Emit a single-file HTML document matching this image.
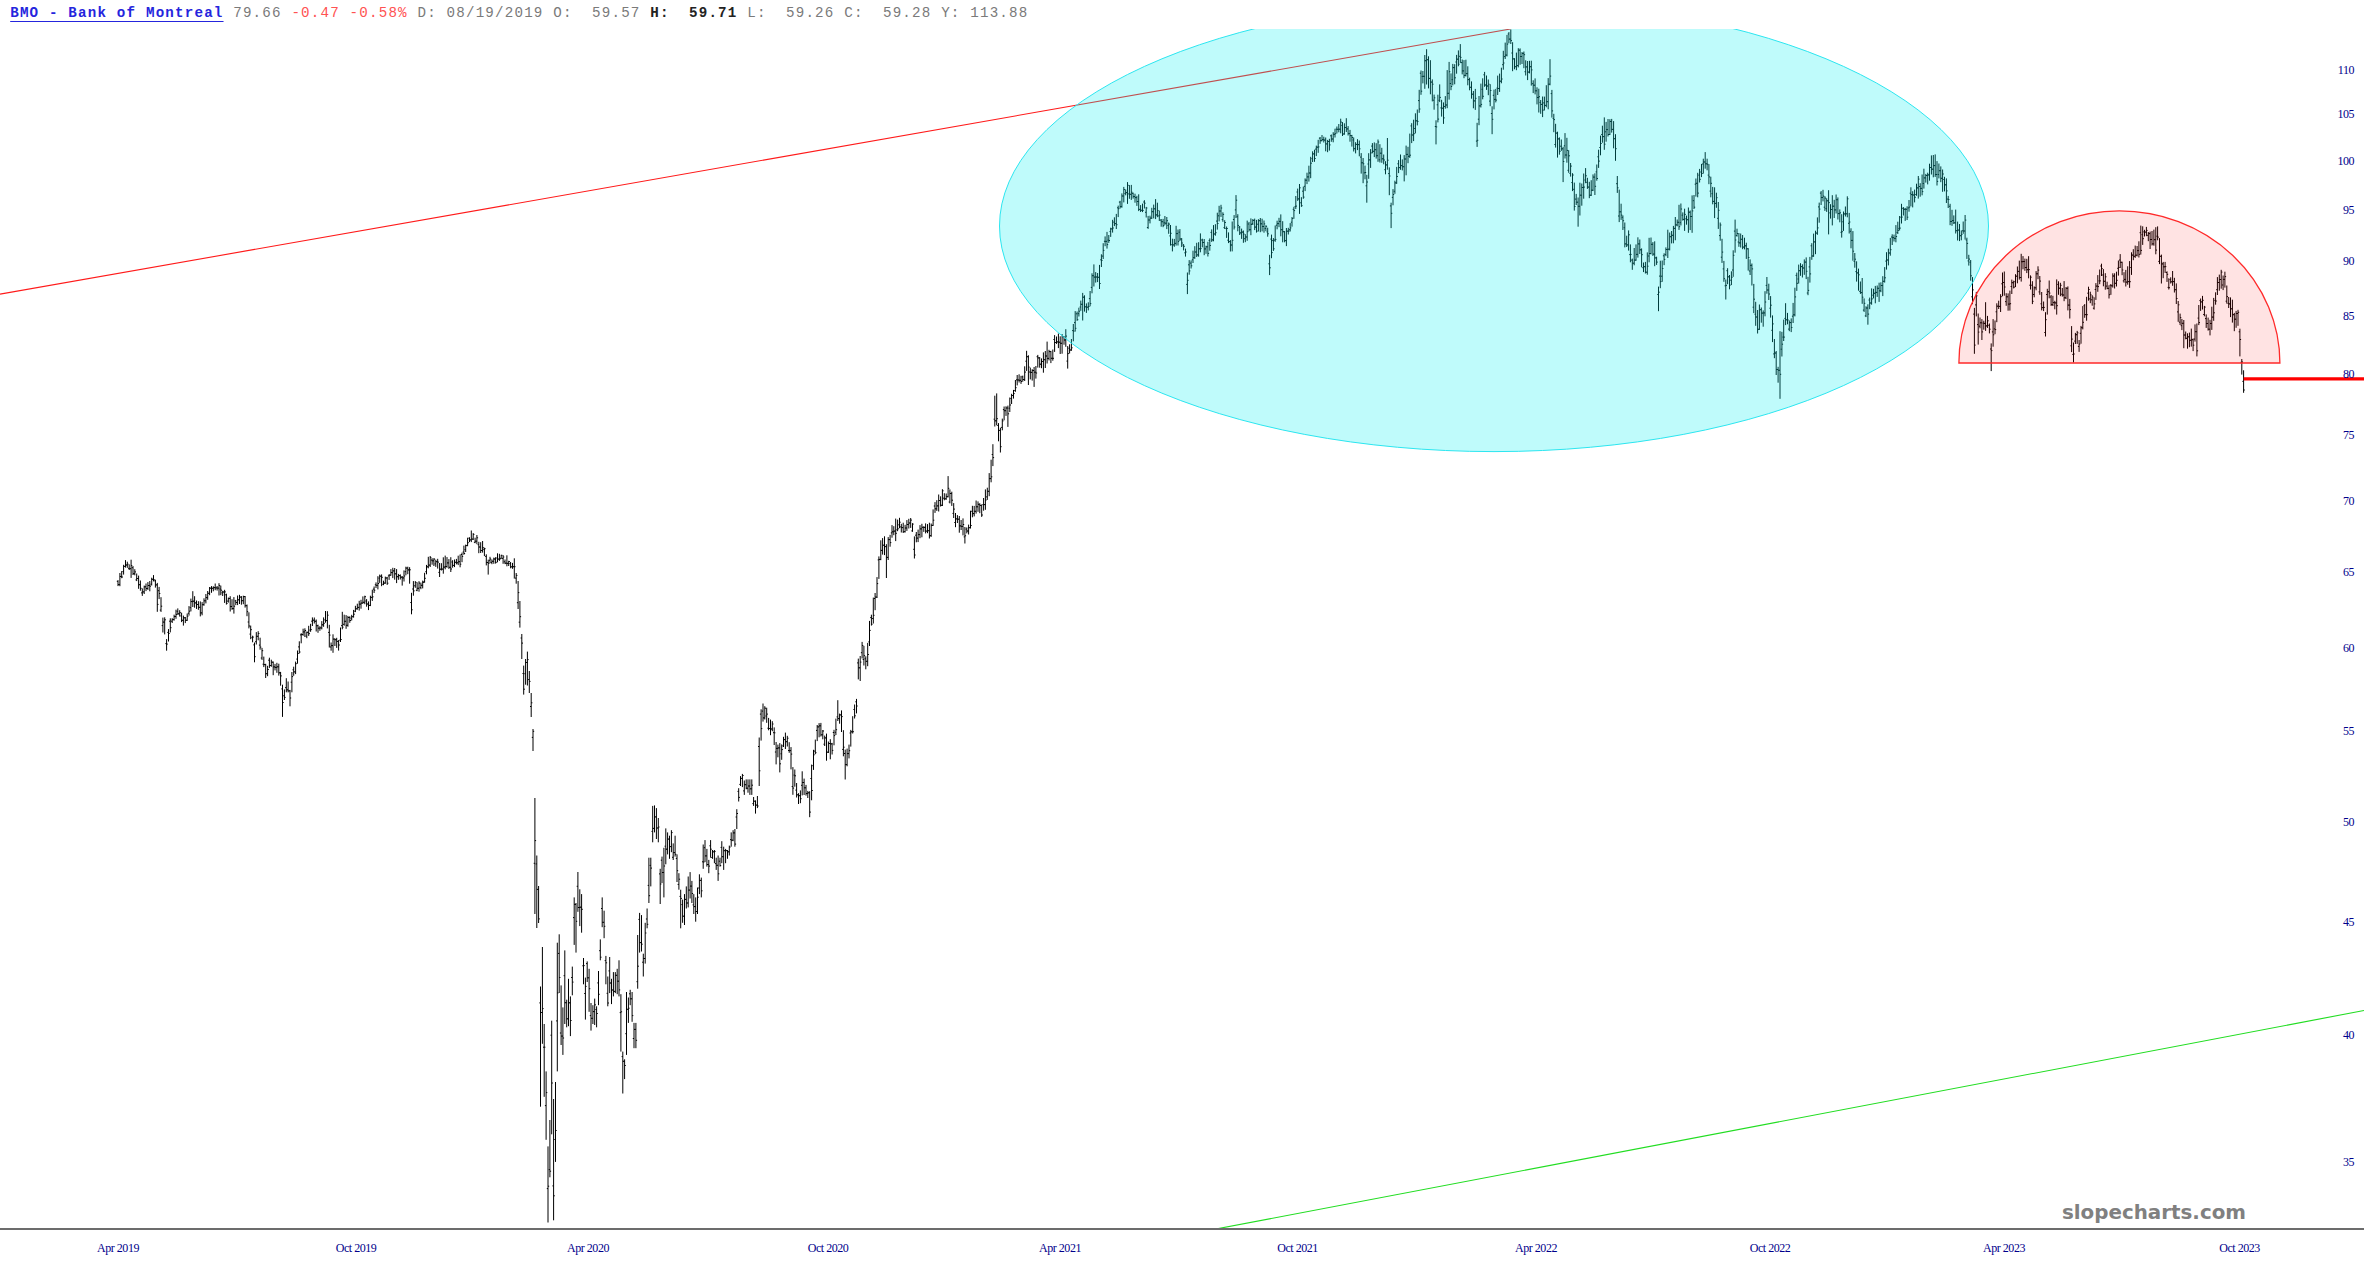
<!DOCTYPE html>
<html><head><meta charset="utf-8"><title>BMO - Bank of Montreal</title>
<style>
html,body{margin:0;padding:0;background:#fff;}
body{width:2364px;height:1269px;overflow:hidden;position:relative;}
#hdr{position:absolute;left:10.2px;top:0;height:27px;line-height:27px;white-space:pre;font-family:"Liberation Mono",monospace;font-size:14.2px;letter-spacing:1.183px;color:#7a7a7a;}
#hdr a{color:#2525dd;font-weight:bold;text-decoration:underline;text-decoration-thickness:1.3px;text-underline-offset:3.6px;}
#hdr .r{color:#ff5252;}
#hdr .b{color:#222;font-weight:bold;}
svg{position:absolute;left:0;top:0;}
.ax text{font-family:"Liberation Serif",serif;font-size:12px;letter-spacing:-0.47px;fill:#00008b;}
.wm{font-family:"DejaVu Sans","Liberation Sans",sans-serif;font-weight:bold;font-size:19px;fill:#808080;}
</style></head><body>
<svg width="2364" height="1269" viewBox="0 0 2364 1269">
<defs><clipPath id="cp"><rect x="0" y="29" width="2364" height="1200"/></clipPath></defs>
<g clip-path="url(#cp)">
<path d="M118.0 580.2V586.1M119.9 573.0V586.2M121.7 571.1V578.2M123.6 564.8V574.6M125.5 560.1V567.6M127.3 561.7V567.8M129.2 564.4V570.0M131.1 559.7V577.9M133.0 566.1V575.0M134.8 569.2V575.3M136.7 573.5V581.1M138.6 575.6V588.8M140.4 580.5V590.7M142.3 588.4V595.9M144.2 585.6V594.0M146.0 583.5V591.1M147.9 582.1V589.9M149.8 581.0V591.3M151.7 577.7V585.5M153.5 575.1V581.4M155.4 579.7V587.6M157.3 582.9V611.8M159.1 586.9V599.1M161.0 597.2V611.9M162.9 617.6V632.5M164.7 617.3V634.4M166.6 639.1V650.7M168.5 629.1V641.5M170.3 618.3V632.4M172.2 618.2V623.0M174.1 614.7V620.6M176.0 609.7V618.8M177.8 608.4V614.8M179.7 610.2V616.6M181.6 612.7V622.1M183.4 615.6V625.6M185.3 617.0V623.1M187.2 613.5V620.9M189.0 606.1V615.6M190.9 598.6V611.4M192.8 591.2V607.0M194.6 596.2V607.7M196.5 600.5V608.9M198.4 601.2V609.8M200.3 601.4V616.4M202.1 602.1V615.3M204.0 598.3V605.7M205.9 594.0V603.4M207.7 591.0V599.8M209.6 587.0V595.2M211.5 586.1V592.8M213.3 586.3V591.3M215.2 583.5V590.2M217.1 586.0V590.6M219.0 583.2V595.5M220.8 585.6V595.2M222.7 590.8V596.0M224.6 589.8V602.9M226.4 593.7V604.6M228.3 597.6V602.6M230.2 596.2V611.5M232.0 599.2V609.8M233.9 597.1V613.6M235.8 599.9V605.1M237.6 595.5V605.1M239.5 594.8V604.0M241.4 596.1V604.7M243.3 595.7V604.2M245.1 596.0V607.6M247.0 604.5V616.2M248.9 612.3V628.4M250.7 625.6V639.2M252.6 635.7V642.3M254.5 642.5V662.3M256.3 632.1V644.5M258.2 631.2V640.3M260.1 637.7V649.7M262.0 647.9V659.9M263.8 656.6V667.1M265.7 663.8V678.0M267.6 665.8V676.2M269.4 657.7V667.9M271.3 659.7V666.8M273.2 661.5V675.2M275.0 663.9V670.4M276.9 662.8V672.8M278.8 663.7V675.6M280.6 671.9V685.7M282.5 684.7V716.9M284.4 689.4V700.0M286.3 678.2V692.3M288.1 681.5V692.4M290.0 689.9V706.3M291.9 672.0V692.3M293.7 666.7V675.8M295.6 661.6V674.1M297.5 650.5V663.7M299.3 641.3V653.5M301.2 633.2V643.3M303.1 628.7V635.8M304.9 628.3V637.0M306.8 631.6V638.2M308.7 625.8V635.9M310.6 623.8V631.8M312.4 617.4V626.0M314.3 617.5V623.5M316.2 619.5V631.5M318.0 624.7V632.8M319.9 626.2V630.8M321.8 621.1V629.4M323.6 617.4V626.8M325.5 611.0V622.7M327.4 611.2V628.4M329.3 624.8V647.5M331.1 642.5V650.7M333.0 634.3V652.8M334.9 638.4V646.0M336.7 637.8V647.9M338.6 640.1V650.6M340.5 627.5V642.0M342.3 611.8V629.3M344.2 614.7V625.7M346.1 615.1V628.8M347.9 615.9V626.7M349.8 616.3V622.8M351.7 614.8V620.5M353.6 609.9V617.6M355.4 605.8V612.1M357.3 603.7V609.7M359.2 600.8V610.6M361.0 599.8V608.7M362.9 596.4V603.7M364.8 595.7V604.2M366.6 599.1V606.7M368.5 601.4V610.1M370.4 595.7V606.1M372.3 589.7V600.9M374.1 586.5V593.0M376.0 582.4V588.0M377.9 576.2V589.4M379.7 574.6V582.9M381.6 574.4V586.2M383.5 580.7V585.2M385.3 576.6V583.8M387.2 576.9V584.9M389.1 574.2V579.9M390.9 569.1V575.7M392.8 567.8V578.1M394.7 568.0V579.7M396.6 569.1V583.1M398.4 573.9V579.8M400.3 574.4V579.5M402.2 576.0V585.6M404.0 570.4V581.5M405.9 566.7V575.3M407.8 566.7V574.2M409.6 567.2V583.7M411.5 592.8V614.3M413.4 581.1V595.7M415.3 581.1V587.8M417.1 582.3V591.2M419.0 581.2V591.7M420.9 582.6V589.2M422.7 580.6V588.4M424.6 572.8V582.8M426.5 564.9V574.3M428.3 556.8V568.3M430.2 556.0V567.0M432.1 558.2V564.7M433.9 558.2V566.0M435.8 559.7V566.9M437.7 558.8V568.6M439.6 563.0V577.0M441.4 563.2V570.5M443.3 557.3V573.7M445.2 555.6V569.3M447.0 557.1V567.7M448.9 559.1V568.9M450.8 557.2V572.0M452.6 560.2V567.7M454.5 559.5V567.1M456.4 558.9V564.4M458.2 555.7V565.1M460.1 554.5V567.3M462.0 552.6V562.2M463.9 545.6V554.8M465.7 544.6V552.0M467.6 537.7V546.2M469.5 537.3V542.1M471.3 530.5V542.1M473.2 533.1V540.0M475.1 537.7V543.2M476.9 535.0V544.2M478.8 541.8V553.2M480.7 542.2V553.0M482.6 541.0V552.6M484.4 547.7V556.1M486.3 554.3V565.4M488.2 559.7V574.6M490.0 556.8V563.3M491.9 559.4V564.2M493.8 557.6V563.8M495.6 557.2V563.6M497.5 553.3V562.3M499.4 553.8V560.9M501.2 554.8V558.9M503.1 555.1V563.8M505.0 559.5V564.1M506.9 555.3V566.3M508.7 560.8V566.0M510.6 562.0V568.3M512.5 562.9V568.8M514.3 558.3V578.6M516.2 573.0V583.7M518.1 581.0V609.0M519.9 601.0V627.6M521.8 634.0V659.0M523.7 665.6V694.6M525.6 659.0V684.7M527.4 651.6V685.5M529.3 671.0V693.0M531.2 693.0V717.0M533.0 729.0V751.0M534.9 798.0V914.0M536.8 855.5V928.0M538.6 886.0V923.0M540.5 986.5V1106.7M542.4 947.0V1043.8M544.2 1024.0V1096.8M546.1 1071.4V1139.8M548.0 1146.4V1222.5M549.9 1120.0V1177.3M551.7 1020.7V1134.3M553.6 1099.0V1220.3M555.5 1082.0V1161.9M557.3 942.7V1071.4M559.2 934.3V993.0M561.1 985.4V1045.0M562.9 1007.4V1054.9M564.8 950.4V1024.0M566.7 999.7V1027.3M568.5 978.8V1026.2M570.4 996.4V1036.1M572.3 966.6V995.3M574.2 897.4V944.9M576.0 903.0V952.6M577.9 872.0V911.8M579.8 889.3V926.1M581.6 894.1V932.7M583.5 958.0V984.3M585.4 977.6V1019.6M587.2 961.4V982.0M589.1 968.8V1011.8M591.0 1003.0V1030.6M592.9 1005.2V1024.0M594.7 998.6V1025.0M596.6 1006.3V1027.3M598.5 971.0V1005.2M600.3 939.4V960.3M602.2 897.4V927.2M604.1 910.7V938.2M605.9 955.9V984.3M607.8 976.5V1006.3M609.7 957.0V993.1M611.5 978.8V1004.1M613.4 972.1V996.4M615.3 972.1V993.1M617.2 968.8V994.2M619.0 960.3V996.4M620.9 994.2V1051.6M622.8 1051.6V1093.5M624.6 1059.3V1079.1M626.5 992.0V1054.9M628.4 997.5V1022.9M630.2 989.8V1005.2M632.1 992.0V1021.8M634.0 1022.9V1048.2M635.9 1022.9V1048.2M637.7 935.0V988.7M639.6 912.9V952.6M641.5 915.1V951.5M643.3 953.7V976.5M645.2 922.8V963.6M647.1 908.5V928.3M648.9 857.7V903.0M650.8 857.7V886.4M652.7 805.9V842.3M654.5 805.4V832.4M656.4 808.1V839.0M658.3 818.0V842.3M660.2 868.8V904.0M662.0 856.6V883.1M663.9 847.8V897.4M665.8 828.4V864.3M667.6 832.4V854.4M669.5 835.7V858.8M671.4 830.2V852.2M673.2 843.4V860.0M675.1 835.7V856.6M677.0 854.4V882.0M678.9 873.2V889.7M680.7 889.7V928.3M682.6 899.6V922.8M684.5 894.1V925.0M686.3 886.4V908.5M688.2 876.5V907.4M690.1 872.1V898.5M691.9 880.9V903.0M693.8 894.1V914.0M695.7 897.4V921.7M697.5 887.5V914.0M699.4 874.3V894.1M701.3 877.6V897.4M703.2 844.5V868.8M705.0 840.1V862.1M706.9 848.9V866.6M708.8 859.9V873.2M710.6 840.1V857.7M712.5 850.0V858.8M714.4 850.0V863.2M716.2 857.7V869.9M718.1 855.5V880.9M720.0 857.7V866.6M721.8 841.2V863.2M723.7 846.7V869.9M725.6 848.9V863.2M727.5 850.0V858.8M729.3 845.6V855.5M731.2 832.4V846.7M733.1 830.2V841.2M734.9 829.0V846.7M736.8 809.2V829.0M738.7 788.2V801.5M740.5 776.1V786.0M742.4 773.9V787.1M744.3 780.5V794.9M746.2 779.4V789.3M748.0 779.4V792.7M749.9 779.4V794.9M751.8 779.4V794.9M753.6 797.0V805.9M755.5 800.4V813.6M757.4 796.0V808.1M759.2 737.5V786.0M761.1 709.3V740.6M763.0 703.5V721.6M764.8 706.2V719.5M766.7 707.7V722.8M768.6 717.9V730.3M770.5 719.6V735.2M772.3 721.2V731.2M774.2 727.4V745.0M776.1 742.0V764.4M777.9 744.6V757.3M779.8 743.1V772.4M781.7 744.4V759.8M783.5 736.8V747.0M785.4 732.6V749.0M787.3 735.8V746.5M789.2 742.2V752.8M791.0 747.1V769.4M792.9 767.1V794.8M794.8 769.5V786.7M796.6 783.0V797.5M798.5 793.2V804.0M800.4 790.4V803.2M802.2 771.3V795.4M804.1 778.6V795.0M806.0 784.9V795.6M807.8 790.9V798.0M809.7 791.2V817.2M811.6 764.6V800.3M813.5 749.8V769.9M815.3 739.6V754.2M817.2 725.0V741.1M819.1 723.1V737.3M820.9 722.9V736.5M822.8 730.0V739.3M824.7 735.6V746.0M826.5 733.6V760.7M828.4 741.5V753.0M830.3 739.2V759.3M832.1 742.9V754.5M834.0 729.8V745.3M835.9 718.6V735.0M837.8 700.2V721.0M839.6 713.6V723.7M841.5 710.4V732.0M843.4 730.2V756.3M845.2 749.6V779.5M847.1 748.6V766.3M849.0 744.6V758.4M850.8 729.9V746.6M852.7 716.2V733.5M854.6 704.5V718.5M856.5 698.9V713.4M858.3 658.6V679.4M860.2 656.0V681.0M862.1 641.9V658.5M863.9 645.9V665.5M865.8 656.3V669.3M867.7 642.9V666.2M869.5 620.9V646.0M871.4 614.7V625.6M873.3 597.6V623.5M875.1 593.0V610.2M877.0 577.1V598.0M878.9 556.4V578.9M880.8 540.3V560.2M882.6 538.1V554.6M884.5 536.3V555.1M886.4 544.2V578.0M888.2 537.1V560.0M890.1 534.8V546.7M892.0 525.1V537.7M893.8 526.2V535.2M895.7 518.6V541.1M897.6 519.6V531.2M899.5 517.8V528.2M901.3 523.8V532.5M903.2 522.7V533.0M905.1 524.8V532.5M906.9 520.1V530.9M908.8 518.8V528.5M910.7 518.0V527.9M912.5 523.2V531.8M914.4 536.4V558.5M916.3 532.0V542.3M918.1 529.6V542.1M920.0 525.1V538.2M921.9 523.8V537.3M923.8 526.3V531.9M925.6 523.4V533.4M927.5 524.1V533.2M929.4 522.7V538.5M931.2 523.5V536.8M933.1 509.4V525.9M935.0 502.1V512.9M936.8 500.2V510.9M938.7 494.5V511.5M940.6 496.3V506.5M942.4 489.2V506.0M944.3 493.2V500.3M946.2 493.5V499.8M948.1 476.1V497.4M949.9 489.4V503.4M951.8 491.7V505.9M953.7 503.1V518.0M955.5 513.0V527.2M957.4 515.1V523.0M959.3 516.0V532.7M961.1 520.0V530.0M963.0 518.4V535.4M964.9 527.0V543.5M966.8 527.4V533.4M968.6 524.6V534.5M970.5 510.7V528.5M972.4 505.8V517.3M974.2 505.9V516.4M976.1 500.5V513.6M978.0 501.4V511.8M979.8 503.3V513.2M981.7 504.5V516.9M983.6 498.0V510.7M985.4 489.4V509.8M987.3 487.7V499.9M989.2 473.1V496.2M991.1 459.7V482.3M992.9 444.2V466.1M994.8 395.7V426.5M996.7 393.4V425.3M998.5 423.1V441.3M1000.4 427.7V452.5M1002.3 418.6V430.3M1004.1 406.5V420.3M1006.0 406.3V415.9M1007.9 405.6V426.9M1009.8 397.5V412.0M1011.6 393.8V404.0M1013.5 389.9V398.6M1015.4 380.0V391.8M1017.2 375.0V385.4M1019.1 374.3V382.5M1021.0 375.8V383.9M1022.8 375.6V381.6M1024.7 366.3V381.0M1026.6 350.8V370.9M1028.4 355.3V385.0M1030.3 367.6V379.4M1032.2 369.2V380.6M1034.1 367.0V386.9M1035.9 366.0V378.6M1037.8 354.9V367.6M1039.7 357.1V367.7M1041.5 358.4V368.2M1043.4 352.4V372.7M1045.3 351.0V368.0M1047.1 341.6V363.5M1049.0 349.8V360.4M1050.9 350.9V363.1M1052.8 349.5V360.7M1054.6 335.1V351.9M1056.5 336.5V343.9M1058.4 333.5V348.1M1060.2 336.3V354.0M1062.1 334.0V353.7M1064.0 336.0V344.7M1065.8 329.2V346.8M1067.7 346.1V368.6M1069.6 344.3V353.5M1071.4 339.0V350.8M1073.3 324.0V341.3M1075.2 311.1V331.6M1077.1 311.5V320.8M1078.9 307.7V316.5M1080.8 300.6V310.8M1082.7 292.9V320.5M1084.5 295.3V311.6M1086.4 303.4V312.9M1088.3 302.3V310.4M1090.1 291.0V306.3M1092.0 273.3V293.3M1093.9 264.4V286.5M1095.7 272.1V282.6M1097.6 273.0V282.1M1099.5 264.9V289.0M1101.4 254.3V267.0M1103.2 243.2V259.0M1105.1 236.4V246.2M1107.0 231.9V248.6M1108.8 235.0V242.9M1110.7 227.7V236.9M1112.6 219.8V232.6M1114.4 217.3V226.1M1116.3 213.9V229.0M1118.2 205.6V217.1M1120.1 200.8V208.5M1121.9 193.4V207.7M1123.8 186.9V202.4M1125.7 189.4V195.3M1127.5 182.1V203.9M1129.4 185.1V198.8M1131.3 184.9V199.9M1133.1 192.6V198.6M1135.0 193.7V202.7M1136.9 195.8V205.9M1138.7 194.3V211.1M1140.6 205.1V212.0M1142.5 203.6V212.1M1144.4 200.2V208.5M1146.2 206.9V217.5M1148.1 215.9V228.9M1150.0 215.7V223.4M1151.8 207.8V219.0M1153.7 204.6V218.4M1155.6 199.1V219.1M1157.4 202.7V217.2M1159.3 210.6V221.0M1161.2 219.0V226.7M1163.1 218.9V227.2M1164.9 216.0V225.2M1166.8 217.0V229.1M1168.7 222.5V233.8M1170.5 225.0V245.6M1172.4 238.7V251.4M1174.3 238.9V246.8M1176.1 225.8V245.6M1178.0 229.5V245.5M1179.9 229.1V241.0M1181.7 238.1V247.0M1183.6 244.1V250.4M1185.5 248.6V256.6M1187.4 272.5V294.1M1189.2 260.1V274.7M1191.1 260.4V268.5M1193.0 250.7V263.0M1194.8 246.2V258.8M1196.7 242.8V257.0M1198.6 242.2V256.7M1200.4 233.4V252.3M1202.3 238.7V247.3M1204.2 239.0V255.2M1206.0 245.7V253.8M1207.9 241.8V256.5M1209.8 238.4V250.7M1211.7 229.4V241.9M1213.5 225.1V241.3M1215.4 224.2V235.7M1217.3 212.7V229.6M1219.1 205.8V221.4M1221.0 204.8V216.9M1222.9 212.3V221.8M1224.7 220.2V229.0M1226.6 226.5V237.9M1228.5 232.4V243.1M1230.4 240.1V251.5M1232.2 221.5V251.4M1234.1 215.1V229.5M1236.0 195.1V218.0M1237.8 214.2V231.3M1239.7 226.0V235.0M1241.6 228.6V238.9M1243.4 230.5V242.8M1245.3 234.2V242.2M1247.2 220.6V240.8M1249.0 221.9V231.3M1250.9 218.4V235.2M1252.8 219.1V225.0M1254.7 218.6V230.1M1256.5 219.9V232.6M1258.4 219.2V231.5M1260.3 218.0V232.2M1262.1 218.7V231.4M1264.0 220.5V232.7M1265.9 225.3V231.2M1267.7 227.7V236.7M1269.6 254.8V275.1M1271.5 234.6V258.2M1273.4 238.1V250.9M1275.2 225.5V241.8M1277.1 220.7V229.3M1279.0 217.8V227.2M1280.8 214.4V236.3M1282.7 221.2V242.3M1284.6 231.1V242.3M1286.4 228.0V246.1M1288.3 227.8V234.5M1290.2 223.1V231.5M1292.0 217.0V226.7M1293.9 206.8V218.8M1295.8 196.0V209.0M1297.7 188.6V200.9M1299.5 184.0V213.9M1301.4 197.2V206.9M1303.3 186.6V198.8M1305.1 178.4V191.1M1307.0 172.7V184.1M1308.9 165.7V181.6M1310.7 156.8V178.2M1312.6 151.3V162.0M1314.5 149.7V161.8M1316.3 145.6V156.1M1318.2 139.8V152.8M1320.1 137.0V143.8M1322.0 135.0V141.2M1323.8 136.7V142.5M1325.7 137.5V151.3M1327.6 139.9V152.2M1329.4 138.8V150.6M1331.3 134.5V141.8M1333.2 132.2V142.3M1335.0 128.7V137.5M1336.9 126.5V133.5M1338.8 124.0V132.3M1340.7 118.7V133.3M1342.5 122.1V136.0M1344.4 123.3V134.7M1346.3 118.2V132.0M1348.1 126.1V135.5M1350.0 129.9V141.7M1351.9 134.9V146.6M1353.7 137.5V151.5M1355.6 142.2V153.4M1357.5 139.2V150.1M1359.3 140.5V156.3M1361.2 153.1V173.6M1363.1 158.0V183.2M1365.0 165.6V179.3M1366.8 174.8V202.7M1368.7 153.2V178.8M1370.6 149.1V167.9M1372.4 143.1V153.3M1374.3 142.4V157.1M1376.2 143.2V158.6M1378.0 139.5V161.8M1379.9 144.2V162.5M1381.8 147.8V162.8M1383.7 154.5V164.3M1385.5 161.2V174.3M1387.4 138.0V169.7M1389.3 167.4V195.2M1391.1 202.7V228.1M1393.0 189.1V205.3M1394.9 180.7V193.8M1396.7 166.9V183.9M1398.6 160.1V173.1M1400.5 154.5V169.8M1402.3 159.4V170.4M1404.2 155.1V181.4M1406.1 145.6V175.3M1408.0 146.8V163.2M1409.8 133.6V157.9M1411.7 123.2V143.1M1413.6 119.7V141.1M1415.4 113.3V133.4M1417.3 109.5V125.4M1419.2 89.8V112.8M1421.0 70.5V94.8M1422.9 71.0V83.4M1424.8 55.0V88.8M1426.6 49.2V84.5M1428.5 56.3V88.4M1430.4 60.2V94.3M1432.3 79.4V101.4M1434.1 94.6V109.7M1436.0 120.3V144.4M1437.9 94.7V122.4M1439.7 84.4V102.1M1441.6 99.8V116.6M1443.5 102.4V123.9M1445.3 96.1V108.7M1447.2 70.1V108.2M1449.1 61.9V99.6M1451.0 73.4V90.2M1452.8 63.9V85.4M1454.7 64.2V84.3M1456.6 54.9V73.7M1458.4 50.4V66.3M1460.3 44.1V63.1M1462.2 59.5V74.4M1464.0 60.1V78.2M1465.9 59.7V76.5M1467.8 66.3V85.3M1469.6 77.7V90.3M1471.5 81.4V98.7M1473.4 91.0V108.3M1475.3 88.9V109.9M1477.1 122.8V146.9M1479.0 96.0V125.2M1480.9 83.6V107.5M1482.7 78.3V99.3M1484.6 71.9V86.8M1486.5 75.5V89.9M1488.3 79.5V95.2M1490.2 84.2V106.2M1492.1 106.3V134.2M1494.0 89.6V109.4M1495.8 88.9V102.4M1497.7 75.6V95.0M1499.6 73.6V91.9M1501.4 67.7V83.3M1503.3 50.8V69.7M1505.2 42.6V59.0M1507.0 34.9V56.4M1508.9 32.1V43.3M1510.8 29.5V44.0M1512.6 42.2V71.2M1514.5 58.2V69.3M1516.4 52.6V70.2M1518.3 48.2V67.4M1520.1 48.4V64.8M1522.0 52.1V64.0M1523.9 51.5V68.2M1525.7 60.3V75.5M1527.6 61.0V80.1M1529.5 60.8V73.4M1531.3 60.7V85.6M1533.2 80.3V93.1M1535.1 78.4V94.4M1537.0 87.3V104.4M1538.8 88.7V112.5M1540.7 100.0V113.8M1542.6 96.5V117.1M1544.4 96.6V110.5M1546.3 85.2V107.3M1548.2 78.1V109.3M1550.0 59.2V85.3M1551.9 89.9V117.6M1553.8 113.8V132.2M1555.6 123.8V147.6M1557.5 131.7V157.6M1559.4 137.4V154.7M1561.3 139.5V150.9M1563.1 146.8V182.1M1565.0 133.1V158.5M1566.9 137.8V162.7M1568.7 150.2V172.8M1570.6 163.0V176.6M1572.5 173.2V191.1M1574.3 182.6V210.6M1576.2 193.9V205.0M1578.1 197.5V226.7M1579.9 182.7V215.5M1581.8 183.5V205.7M1583.7 173.5V198.7M1585.6 168.1V183.2M1587.4 177.8V188.9M1589.3 181.8V198.2M1591.2 180.2V196.0M1593.0 174.4V191.1M1594.9 173.3V195.0M1596.8 164.5V180.7M1598.6 149.7V167.9M1600.5 135.6V155.3M1602.4 125.7V142.7M1604.3 117.4V149.8M1606.1 121.9V141.7M1608.0 119.0V136.5M1609.9 119.2V135.0M1611.7 118.9V132.6M1613.6 121.1V148.3M1615.5 134.2V160.8M1617.3 176.0V192.9M1619.2 189.6V222.1M1621.1 203.7V219.9M1622.9 215.4V230.0M1624.8 222.5V247.4M1626.7 235.7V247.0M1628.6 230.4V250.6M1630.4 244.4V262.3M1632.3 258.6V269.8M1634.2 248.0V265.3M1636.0 244.4V260.8M1637.9 237.3V257.6M1639.8 239.5V254.0M1641.6 248.4V267.3M1643.5 262.5V272.1M1645.4 261.9V273.5M1647.3 252.4V274.7M1649.1 237.8V262.3M1651.0 237.5V254.4M1652.9 242.1V255.9M1654.7 241.3V266.2M1656.6 256.7V264.9M1658.5 286.6V311.2M1660.3 260.7V288.2M1662.2 260.5V281.8M1664.1 253.3V265.2M1665.9 247.4V256.2M1667.8 229.7V258.0M1669.7 232.5V250.4M1671.6 231.0V243.4M1673.4 225.9V243.3M1675.3 217.0V240.3M1677.2 219.5V226.3M1679.0 204.8V229.9M1680.9 203.5V225.5M1682.8 212.4V220.6M1684.6 208.7V230.9M1686.5 215.6V224.7M1688.4 207.5V232.8M1690.2 210.5V230.1M1692.1 195.4V232.8M1694.0 195.0V209.0M1695.9 178.5V196.6M1697.7 172.8V197.3M1699.6 168.9V182.5M1701.5 163.9V177.1M1703.3 158.7V173.6M1705.2 152.1V168.7M1707.1 158.7V170.3M1708.9 164.1V184.2M1710.8 176.7V197.3M1712.7 186.9V204.3M1714.6 187.3V218.1M1716.4 192.7V207.8M1718.3 202.0V228.9M1720.2 222.5V240.7M1722.0 238.8V262.9M1723.9 260.9V281.8M1725.8 279.5V299.5M1727.6 268.2V284.2M1729.5 275.0V289.3M1731.4 271.3V285.1M1733.2 250.3V276.8M1735.1 219.6V252.7M1737.0 228.7V236.6M1738.9 233.0V246.8M1740.7 233.5V247.5M1742.6 235.0V249.2M1744.5 237.7V249.4M1746.3 242.7V258.9M1748.2 248.2V270.6M1750.1 259.4V275.0M1751.9 263.5V285.5M1753.8 283.9V313.1M1755.7 301.8V325.8M1757.6 310.0V333.5M1759.4 304.5V329.9M1761.3 307.5V322.7M1763.2 310.4V326.7M1765.0 291.2V316.3M1766.9 277.0V293.7M1768.8 283.7V300.0M1770.6 296.1V317.6M1772.5 315.4V342.1M1774.4 339.0V358.2M1776.2 351.0V375.0M1778.1 366.8V382.7M1780.0 331.2V398.8M1781.9 331.8V356.5M1783.7 319.6V341.0M1785.6 303.2V325.1M1787.5 312.9V324.3M1789.3 320.4V331.2M1791.2 318.4V332.1M1793.1 302.9V323.0M1794.9 287.7V316.4M1796.8 272.6V290.9M1798.7 264.6V283.6M1800.5 263.2V275.8M1802.4 264.3V277.5M1804.3 259.4V274.8M1806.2 257.4V279.1M1808.0 276.8V295.2M1809.9 256.9V282.6M1811.8 243.2V259.8M1813.6 233.6V256.8M1815.5 230.7V254.2M1817.4 217.4V234.8M1819.2 202.6V222.7M1821.1 191.1V205.0M1823.0 189.8V201.4M1824.9 196.2V210.9M1826.7 198.3V211.9M1828.6 190.2V234.4M1830.5 204.2V218.6M1832.3 195.2V225.4M1834.2 199.8V218.0M1836.1 194.5V213.5M1837.9 197.4V219.5M1839.8 209.4V222.3M1841.7 214.2V237.6M1843.5 211.5V230.9M1845.4 206.5V216.5M1847.3 196.3V217.3M1849.2 212.9V233.5M1851.0 228.3V248.3M1852.9 231.1V260.7M1854.8 253.0V267.7M1856.6 261.3V281.6M1858.5 268.6V290.7M1860.4 281.5V293.9M1862.2 278.0V303.8M1864.1 298.4V311.9M1866.0 306.3V317.1M1867.9 304.3V324.7M1869.7 297.6V309.2M1871.6 288.4V304.7M1873.5 288.8V298.4M1875.3 285.9V303.3M1877.2 285.5V296.9M1879.1 282.7V301.9M1880.9 282.3V292.2M1882.8 276.2V296.1M1884.7 267.1V282.6M1886.5 252.2V269.6M1888.4 248.7V265.4M1890.3 237.9V255.7M1892.2 234.3V245.0M1894.0 234.6V241.5M1895.9 225.1V242.3M1897.8 221.7V234.0M1899.6 216.0V230.5M1901.5 203.8V223.5M1903.4 207.1V215.5M1905.2 207.9V220.9M1907.1 206.3V220.0M1909.0 200.0V211.7M1910.9 187.3V206.4M1912.7 191.2V207.4M1914.6 189.6V202.4M1916.5 183.7V195.8M1918.3 176.0V198.6M1920.2 183.2V196.7M1922.1 174.5V195.3M1923.9 168.7V188.6M1925.8 173.9V182.6M1927.7 172.7V184.4M1929.5 163.7V180.7M1931.4 155.4V174.5M1933.3 155.0V177.3M1935.2 154.4V176.9M1937.0 161.1V185.5M1938.9 163.5V178.4M1940.8 166.4V182.2M1942.6 169.5V191.8M1944.5 176.8V191.4M1946.4 178.4V203.0M1948.2 195.9V208.0M1950.1 203.8V225.2M1952.0 209.8V225.8M1953.8 215.4V224.0M1955.7 209.6V233.5M1957.6 221.6V240.5M1959.5 224.0V241.1M1961.3 230.4V240.3M1963.2 221.5V233.8M1965.1 215.0V239.6M1966.9 237.7V258.9M1968.8 254.8V265.6M1970.7 260.0V280.7M1972.5 277.1V304.2M1974.4 307.9V353.8M1976.3 291.9V316.4M1978.2 313.5V344.6M1980.0 317.5V328.3M1981.9 319.1V340.0M1983.8 320.7V329.7M1985.6 302.2V330.9M1987.5 315.9V327.9M1989.4 323.5V333.4M1991.2 343.4V371.1M1993.1 319.1V346.7M1995.0 320.5V334.2M1996.8 303.3V322.2M1998.7 300.7V309.0M2000.6 294.2V312.0M2002.5 272.5V296.3M2004.3 271.5V295.7M2006.2 293.2V305.8M2008.1 293.4V310.7M2009.9 290.6V310.6M2011.8 279.6V294.0M2013.7 280.7V288.4M2015.5 274.2V287.1M2017.4 266.5V283.3M2019.3 260.6V279.6M2021.2 253.8V281.6M2023.0 256.1V269.3M2024.9 258.6V270.8M2026.8 258.8V273.1M2028.6 256.2V278.3M2030.5 275.4V289.5M2032.4 281.2V304.1M2034.2 286.4V297.3M2036.1 271.1V290.3M2038.0 266.3V279.2M2039.8 276.0V294.8M2041.7 292.0V310.4M2043.6 301.5V311.1M2045.5 312.2V336.5M2047.3 288.8V314.6M2049.2 280.5V298.3M2051.1 295.0V305.9M2052.9 295.8V306.0M2054.8 300.8V309.3M2056.7 279.4V314.6M2058.5 281.3V294.8M2060.4 282.8V296.2M2062.3 288.0V296.6M2064.1 281.1V301.2M2066.0 287.1V299.1M2067.9 286.4V310.4M2069.8 298.9V318.5M2071.6 326.1V352.1M2073.5 342.5V362.5M2075.4 332.9V344.0M2077.2 330.9V343.9M2079.1 340.0V351.9M2081.0 325.9V343.7M2082.8 306.1V329.4M2084.7 304.1V317.8M2086.6 296.8V320.7M2088.5 286.7V300.7M2090.3 291.7V303.2M2092.2 295.2V305.7M2094.1 297.3V309.6M2095.9 283.1V299.9M2097.8 275.1V291.8M2099.7 269.5V284.2M2101.5 263.7V276.0M2103.4 269.1V286.3M2105.3 273.2V289.7M2107.1 281.7V289.3M2109.0 285.3V298.5M2110.9 284.1V294.8M2112.8 273.3V287.6M2114.6 273.3V288.5M2116.5 271.7V286.5M2118.4 260.5V275.6M2120.2 254.1V268.0M2122.1 261.7V275.2M2124.0 272.2V282.7M2125.8 269.9V286.5M2127.7 266.3V284.7M2129.6 261.1V287.9M2131.5 252.3V274.9M2133.3 249.2V260.2M2135.2 245.6V257.9M2137.1 246.0V256.4M2138.9 241.3V257.5M2140.8 225.6V254.6M2142.7 226.3V244.9M2144.5 229.8V236.5M2146.4 226.9V236.2M2148.3 232.0V241.2M2150.1 231.6V249.0M2152.0 231.0V245.5M2153.9 229.6V245.7M2155.8 227.2V254.3M2157.6 226.4V240.3M2159.5 238.1V264.1M2161.4 254.6V283.5M2163.2 261.9V278.2M2165.1 261.9V272.9M2167.0 271.3V281.9M2168.8 278.3V289.5M2170.7 277.3V283.5M2172.6 271.0V285.8M2174.4 277.8V292.5M2176.3 283.4V304.0M2178.2 301.0V321.8M2180.1 313.6V325.0M2181.9 318.9V330.1M2183.8 320.0V348.2M2185.7 331.5V339.3M2187.5 333.3V348.7M2189.4 332.6V347.2M2191.3 328.6V346.6M2193.1 338.5V351.1M2195.0 324.4V341.6M2196.9 323.5V356.4M2198.8 305.0V325.1M2200.6 298.5V310.9M2202.5 295.9V309.5M2204.4 305.9V316.3M2206.2 314.4V327.9M2208.1 317.6V330.6M2210.0 319.8V335.4M2211.8 306.7V329.9M2213.7 297.9V320.8M2215.6 292.3V304.7M2217.4 277.1V295.0M2219.3 274.6V290.7M2221.2 269.8V288.7M2223.1 275.5V290.1M2224.9 271.7V287.6M2226.8 285.5V303.6M2228.7 297.0V308.0M2230.5 297.4V317.1M2232.4 299.7V322.6M2234.3 312.9V331.2M2236.1 310.9V327.8M2238.0 309.8V325.8M2239.9 328.7V356.4M2241.8 359.0V374.6M2243.6 370.3V392.8" stroke="#000" stroke-width="1" fill="none"/>
<path d="M116.8 581.3H118.0M118.0 584.6H119.2M118.7 584.6H119.9M119.9 576.5H121.1M120.5 576.5H121.7M121.7 577.0H122.9M122.4 571.6H123.6M123.6 566.4H124.8M124.3 566.4H125.5M125.5 565.0H126.7M126.1 565.0H127.3M127.3 564.2H128.5M128.0 568.3H129.2M129.2 568.7H130.4M129.9 568.7H131.1M131.1 565.6H132.3M131.8 567.7H133.0M133.0 573.7H134.2M133.6 573.7H134.8M134.8 571.9H136.0M135.5 579.9H136.7M136.7 578.5H137.9M137.4 578.5H138.6M138.6 584.7H139.8M139.2 584.7H140.4M140.4 588.3H141.6M141.1 592.9H142.3M142.3 591.9H143.5M143.0 591.9H144.2M144.2 586.8H145.4M144.8 586.8H146.0M146.0 588.5H147.2M146.7 588.5H147.9M147.9 585.5H149.1M148.6 585.5H149.8M149.8 586.2H151.0M150.5 584.2H151.7M151.7 579.3H152.9M152.3 579.3H153.5M153.5 579.6H154.7M154.2 580.8H155.4M155.4 584.9H156.6M156.1 584.9H157.3M157.3 604.4H158.5M157.9 590.7H159.1M159.1 593.5H160.3M159.8 610.1H161.0M161.0 606.2H162.2M161.7 625.6H162.9M162.9 622.1H164.1M163.5 622.1H164.7M164.7 619.8H165.9M165.4 643.6H166.6M166.6 644.1H167.8M167.3 632.4H168.5M168.5 633.4H169.7M169.1 621.2H170.3M170.3 627.7H171.5M171.0 621.2H172.2M172.2 619.6H173.4M172.9 619.6H174.1M174.1 616.5H175.3M174.8 616.5H176.0M176.0 614.4H177.2M176.6 611.3H177.8M177.8 613.8H179.0M178.5 613.8H179.7M179.7 612.7H180.9M180.4 615.9H181.6M181.6 620.3H182.8M182.2 620.3H183.4M183.4 617.8H184.6M184.1 617.8H185.3M185.3 620.3H186.5M186.0 620.3H187.2M187.2 616.2H188.4M187.8 613.2H189.0M189.0 611.2H190.2M189.7 607.7H190.9M190.9 601.6H192.1M191.6 601.6H192.8M192.8 601.2H194.0M193.4 601.2H194.6M194.6 602.9H195.8M195.3 602.9H196.5M196.5 604.5H197.7M197.2 604.5H198.4M198.4 607.3H199.6M199.1 607.3H200.3M200.3 612.9H201.5M200.9 612.9H202.1M202.1 604.7H203.3M202.8 604.7H204.0M204.0 600.8H205.2M204.7 600.8H205.9M205.9 597.6H207.1M206.5 597.6H207.7M207.7 593.3H208.9M208.4 593.3H209.6M209.6 588.2H210.8M210.3 588.2H211.5M211.5 588.3H212.7M212.1 588.3H213.3M213.3 587.6H214.5M214.0 587.6H215.2M215.2 587.9H216.4M215.9 587.9H217.1M217.1 588.1H218.3M217.8 588.1H219.0M219.0 585.6H220.2M219.6 589.0H220.8M220.8 590.2H222.0M221.5 592.8H222.7M222.7 592.0H223.9M223.4 592.0H224.6M224.6 591.9H225.8M225.2 594.8H226.4M226.4 603.4H227.6M227.1 601.1H228.3M228.3 598.4H229.5M229.0 598.4H230.2M230.2 606.5H231.4M230.8 606.5H232.0M232.0 608.6H233.2M232.7 608.6H233.9M233.9 606.2H235.1M234.6 600.9H235.8M235.8 602.5H237.0M236.4 602.5H237.6M237.6 599.8H238.8M238.3 599.8H239.5M239.5 597.1H240.7M240.2 597.1H241.4M241.4 600.7H242.6M242.1 600.7H243.3M243.3 596.6H244.5M243.9 596.6H245.1M245.1 605.7H246.3M245.8 605.7H247.0M247.0 611.7H248.2M247.7 622.0H248.9M248.9 626.0H250.1M249.5 634.1H250.7M250.7 629.7H251.9M251.4 637.7H252.6M252.6 637.1H253.8M253.3 644.9H254.5M254.5 656.7H255.7M255.1 641.7H256.3M256.3 636.3H257.5M257.0 636.3H258.2M258.2 633.5H259.4M258.9 645.1H260.1M260.1 647.1H261.3M260.8 658.0H262.0M262.0 650.7H263.2M262.6 664.2H263.8M263.8 664.6H265.0M264.5 664.6H265.7M265.7 673.7H266.9M266.4 673.7H267.6M267.6 669.5H268.8M268.2 660.2H269.4M269.4 665.5H270.6M270.1 665.5H271.3M271.3 662.2H272.5M272.0 662.2H273.2M273.2 666.9H274.4M273.8 666.9H275.0M275.0 667.4H276.2M275.7 667.4H276.9M276.9 666.8H278.1M277.6 666.8H278.8M278.8 672.8H280.0M279.4 672.8H280.6M280.6 675.9H281.8M281.3 688.9H282.5M282.5 702.5H283.7M283.2 695.8H284.4M284.4 697.4H285.6M285.1 687.6H286.3M286.3 689.8H287.5M286.9 689.8H288.1M288.1 690.9H289.3M288.8 690.9H290.0M290.0 698.0H291.2M290.7 682.2H291.9M291.9 676.6H293.1M292.5 669.8H293.7M293.7 671.9H294.9M294.4 671.9H295.6M295.6 663.7H296.8M296.3 659.1H297.5M297.5 653.5H298.7M298.1 646.9H299.3M299.3 652.0H300.5M300.0 634.9H301.2M301.2 634.5H302.4M301.9 634.5H303.1M303.1 631.9H304.3M303.8 631.9H304.9M304.9 630.5H306.1M305.6 636.1H306.8M306.8 632.3H308.0M307.5 632.3H308.7M308.7 633.6H309.9M309.4 630.1H310.6M310.6 629.6H311.8M311.2 621.2H312.4M312.4 620.2H313.6M313.1 620.2H314.3M314.3 621.3H315.5M315.0 621.3H316.2M316.2 625.7H317.4M316.8 625.7H318.0M318.0 628.2H319.2M318.7 628.2H319.9M319.9 627.9H321.1M320.6 627.9H321.8M321.8 624.8H323.0M322.4 624.8H323.6M323.6 623.3H324.8M324.3 619.9H325.5M325.5 620.6H326.7M326.2 620.6H327.4M327.4 615.2H328.6M328.1 632.4H329.3M329.3 635.1H330.5M329.9 647.0H331.1M331.1 645.6H332.3M331.8 645.6H333.0M333.0 639.1H334.2M333.7 639.1H334.9M334.9 639.7H336.1M335.5 639.7H336.7M336.7 641.4H337.9M337.4 641.4H338.6M338.6 645.0H339.8M339.3 640.2H340.5M340.5 639.5H341.7M341.1 625.6H342.3M342.3 627.2H343.5M343.0 624.3H344.2M344.2 621.3H345.4M344.9 621.3H346.1M346.1 625.3H347.3M346.7 625.3H347.9M347.9 617.5H349.1M348.6 617.5H349.8M349.8 620.5H351.0M350.5 618.2H351.7M351.7 616.7H352.9M352.4 616.7H353.6M353.6 614.2H354.8M354.2 611.2H355.4M355.4 608.8H356.6M356.1 608.8H357.3M357.3 607.4H358.5M358.0 607.4H359.2M359.2 604.1H360.4M359.8 604.1H361.0M361.0 603.1H362.2M361.7 603.1H362.9M362.9 602.3H364.1M363.6 602.3H364.8M364.8 596.7H366.0M365.4 601.0H366.6M366.6 604.0H367.8M367.3 604.0H368.5M368.5 605.4H369.7M369.2 605.4H370.4M370.4 597.4H371.6M371.1 597.4H372.3M372.3 596.8H373.5M372.9 589.1H374.1M374.1 590.2H375.3M374.8 584.8H376.0M376.0 585.3H377.2M376.7 585.3H377.9M377.9 583.5H379.1M378.5 578.1H379.7M379.7 576.2H380.9M380.4 576.2H381.6M381.6 577.3H382.8M382.3 584.3H383.5M383.5 583.1H384.7M384.1 583.1H385.3M385.3 578.0H386.5M386.0 578.0H387.2M387.2 583.2H388.4M387.9 575.9H389.1M389.1 575.2H390.3M389.7 575.2H390.9M390.9 572.6H392.1M391.6 572.6H392.8M392.8 570.9H394.0M393.5 570.9H394.7M394.7 573.8H395.9M395.4 573.8H396.6M396.6 576.7H397.8M397.2 576.7H398.4M398.4 575.6H399.6M399.1 575.6H400.3M400.3 577.2H401.5M401.0 577.2H402.2M402.2 577.9H403.4M402.8 577.9H404.0M404.0 576.0H405.2M404.7 571.6H405.9M405.9 568.1H407.1M406.6 568.1H407.8M407.8 569.9H409.0M408.4 569.9H409.6M409.6 569.8H410.8M410.3 602.5H411.5M411.5 609.8H412.7M412.2 589.0H413.4M413.4 590.9H414.6M414.1 585.8H415.3M415.3 582.4H416.5M415.9 590.3H417.1M417.1 588.3H418.3M417.8 588.3H419.0M419.0 583.1H420.2M419.7 587.6H420.9M420.9 585.3H422.1M421.5 585.3H422.7M422.7 582.5H423.9M423.4 581.5H424.6M424.6 578.3H425.8M425.3 571.7H426.5M426.5 566.8H427.7M427.1 566.8H428.3M428.3 565.1H429.5M429.0 565.1H430.2M430.2 557.6H431.4M430.9 560.1H432.1M432.1 560.8H433.3M432.7 560.8H433.9M433.9 559.1H435.1M434.6 563.9H435.8M435.8 561.7H437.0M436.5 561.7H437.7M437.7 562.1H438.9M438.4 572.4H439.6M439.6 569.2H440.8M440.2 569.2H441.4M441.4 569.1H442.6M442.1 569.1H443.3M443.3 567.1H444.5M444.0 567.1H445.2M445.2 566.5H446.4M445.8 566.5H447.0M447.0 562.9H448.2M447.7 562.9H448.9M448.9 567.3H450.1M449.6 567.3H450.8M450.8 569.0H452.0M451.4 562.0H452.6M452.6 565.4H453.8M453.3 565.4H454.5M454.5 562.3H455.7M455.2 562.3H456.4M456.4 562.8H457.6M457.0 562.8H458.2M458.2 561.7H459.4M458.9 561.7H460.1M460.1 564.2H461.3M460.8 554.5H462.0M462.0 556.4H463.2M462.7 552.0H463.9M463.9 553.5H465.1M464.5 549.6H465.7M465.7 545.6H466.9M466.4 545.6H467.6M467.6 542.7H468.8M468.3 538.2H469.5M469.5 539.9H470.7M470.1 539.9H471.3M471.3 539.1H472.5M472.0 539.1H473.2M473.2 534.4H474.4M473.9 542.3H475.1M475.1 541.2H476.3M475.7 541.2H476.9M476.9 537.8H478.1M477.6 544.7H478.8M478.8 547.0H480.0M479.5 547.0H480.7M480.7 550.5H481.9M481.4 550.5H482.6M482.6 547.6H483.8M483.2 549.3H484.4M484.4 548.7H485.6M485.1 556.4H486.3M486.3 562.5H487.5M487.0 562.5H488.2M488.2 563.4H489.4M488.8 560.3H490.0M490.0 559.0H491.2M490.7 562.5H491.9M491.9 561.3H493.1M492.6 561.3H493.8M493.8 559.0H495.0M494.4 559.0H495.6M495.6 562.3H496.8M496.3 558.0H497.5M497.5 559.1H498.7M498.2 559.1H499.4M499.4 559.1H500.6M500.0 558.3H501.2M501.2 555.3H502.4M501.9 558.4H503.1M503.1 557.0H504.3M503.8 561.8H505.0M505.0 563.2H506.2M505.7 563.2H506.9M506.9 563.4H508.1M507.5 563.4H508.7M508.7 561.5H509.9M509.4 563.6H510.6M510.6 566.8H511.8M511.3 566.8H512.5M512.5 566.7H513.7M513.1 566.7H514.3M514.3 566.7H515.5M515.0 578.1H516.2M516.2 575.4H517.4M516.9 602.7H518.1M518.1 592.6H519.3M518.7 622.2H519.9M519.9 616.7H521.1M520.6 638.0H521.8M521.8 643.1H523.0M522.5 673.5H523.7M523.7 689.2H524.9M524.4 673.7H525.6M525.6 662.5H526.8M526.2 662.5H527.4M527.4 659.6H528.6M528.1 679.6H529.3M529.3 681.4H530.5M530.0 706.5H531.2M531.2 702.8H532.4M531.8 737.4H533.0M533.0 731.3H534.2M533.7 863.3H534.9M534.9 840.6H536.1M535.6 863.9H536.8M536.8 889.4H538.0M537.4 889.4H538.6M538.6 918.9H539.8M539.3 1002.9H540.5M540.5 1012.5H541.7M541.2 1012.5H542.4M542.4 1008.6H543.6M543.0 1047.2H544.2M544.2 1047.2H545.4M544.9 1105.6H546.1M546.1 1092.6H547.3M546.8 1188.6H548.0M548.0 1186.2H549.2M548.7 1169.6H549.9M549.9 1171.2H551.1M550.5 1035.2H551.7M551.7 1083.0H552.9M552.4 1185.9H553.6M553.6 1195.8H554.8M554.3 1139.5H555.5M555.5 1130.5H556.7M556.1 1020.9H557.3M557.3 992.9H558.5M558.0 953.4H559.2M559.2 977.5H560.4M559.9 1033.0H561.1M561.1 1036.1H562.3M561.7 1036.1H562.9M562.9 1038.0H564.1M563.6 975.7H564.8M564.8 1002.7H566.0M565.5 1002.7H566.7M566.7 1018.8H567.9M567.3 1018.8H568.5M568.5 1002.8H569.7M569.2 1002.8H570.4M570.4 1020.5H571.6M571.1 977.5H572.3M572.3 982.1H573.5M573.0 917.6H574.2M574.2 904.4H575.4M574.8 904.4H576.0M576.0 921.3H577.2M576.7 886.3H577.9M577.9 907.5H579.1M578.6 907.5H579.8M579.8 907.2H581.0M580.4 907.2H581.6M581.6 909.3H582.8M582.3 965.8H583.5M583.5 965.6H584.7M584.2 993.5H585.4M585.4 986.4H586.6M586.0 963.6H587.2M587.2 977.8H588.4M587.9 977.8H589.1M589.1 988.7H590.3M589.8 1015.6H591.0M591.0 1018.3H592.2M591.7 1018.3H592.9M592.9 1011.6H594.1M593.5 1011.6H594.7M594.7 1004.8H595.9M595.4 1009.5H596.6M596.6 1013.5H597.8M597.3 982.9H598.5M598.5 994.3H599.7M599.1 950.7H600.3M600.3 957.2H601.5M601.0 908.5H602.2M602.2 922.3H603.4M602.9 922.3H604.1M604.1 926.3H605.3M604.7 960.6H605.9M605.9 962.8H607.1M606.6 993.3H607.8M607.8 1003.0H609.0M608.5 970.9H609.7M609.7 983.0H610.9M610.3 983.0H611.5M611.5 990.0H612.7M612.2 990.0H613.4M613.4 991.4H614.6M614.1 991.4H615.3M615.3 975.3H616.5M616.0 975.3H617.2M617.2 981.2H618.4M617.8 981.2H619.0M619.0 989.9H620.2M619.7 1012.6H620.9M620.9 1011.8H622.1M621.6 1056.6H622.8M622.8 1061.3H624.0M623.4 1061.3H624.6M624.6 1065.5H625.8M625.3 1033.7H626.5M626.5 1009.3H627.7M627.2 1009.3H628.4M628.4 1008.2H629.6M629.0 993.8H630.2M630.2 998.8H631.4M630.9 998.8H632.1M632.1 1015.6H633.3M632.8 1038.5H634.0M634.0 1029.4H635.2M634.7 1029.4H635.9M635.9 1040.3H637.1M636.5 981.7H637.7M637.7 966.2H638.9M638.4 919.4H639.6M639.6 942.6H640.8M640.3 942.6H641.5M641.5 944.2H642.7M642.1 962.2H643.3M643.3 958.5H644.5M644.0 958.5H645.2M645.2 933.0H646.4M645.9 919.0H647.1M647.1 924.3H648.3M647.7 885.4H648.9M648.9 895.7H650.1M649.6 865.4H650.8M650.8 868.1H652.0M651.5 831.4H652.7M652.7 828.4H653.9M653.3 828.4H654.5M654.5 816.9H655.7M655.2 816.9H656.4M656.4 828.0H657.6M657.1 828.0H658.3M658.3 827.0H659.5M659.0 873.9H660.2M660.2 884.0H661.4M660.8 860.2H662.0M662.0 872.5H663.2M662.7 872.5H663.9M663.9 866.0H665.1M664.6 846.2H665.8M665.8 849.2H667.0M666.4 849.2H667.6M667.6 839.1H668.8M668.3 839.1H669.5M669.5 846.6H670.7M670.2 846.6H671.4M671.4 832.6H672.6M672.0 857.3H673.2M673.2 852.6H674.4M673.9 852.6H675.1M675.1 854.3H676.3M675.8 858.4H677.0M677.0 870.7H678.2M677.6 884.4H678.9M678.9 879.2H680.1M679.5 896.4H680.7M680.7 898.4H681.9M681.4 904.6H682.6M682.6 916.2H683.8M683.3 916.2H684.5M684.5 899.4H685.7M685.1 899.4H686.3M686.3 903.0H687.5M687.0 903.0H688.2M688.2 890.1H689.4M688.9 890.1H690.1M690.1 886.1H691.3M690.7 886.1H691.9M691.9 893.5H693.1M692.6 904.9H693.8M693.8 906.6H695.0M694.5 906.6H695.7M695.7 911.5H696.9M696.3 911.5H697.5M697.5 897.2H698.7M698.2 888.0H699.4M699.4 880.4H700.6M700.1 880.4H701.3M701.3 890.8H702.5M702.0 861.8H703.2M703.2 862.0H704.4M703.8 847.7H705.0M705.0 855.9H706.2M705.7 855.9H706.9M706.9 864.5H708.1M707.6 864.5H708.8M708.8 866.1H710.0M709.4 845.8H710.6M710.6 849.2H711.8M711.3 857.5H712.5M712.5 851.8H713.7M713.2 851.8H714.4M714.4 851.4H715.6M715.0 863.6H716.2M716.2 865.3H717.4M716.9 865.3H718.1M718.1 873.8H719.3M718.8 861.2H720.0M720.0 865.6H721.2M720.6 847.4H721.8M721.8 856.7H723.0M722.5 856.7H723.7M723.7 850.7H724.9M724.4 850.7H725.6M725.6 850.6H726.8M726.3 850.6H727.5M727.5 851.8H728.7M728.1 851.8H729.3M729.3 847.1H730.5M730.0 839.6H731.2M731.2 840.2H732.4M731.9 840.2H733.1M733.1 832.9H734.3M733.7 832.9H734.9M734.9 844.1H736.1M735.6 817.0H736.8M736.8 813.5H738.0M737.5 791.4H738.7M738.7 797.4H739.9M739.3 784.4H740.5M740.5 778.4H741.7M741.2 778.4H742.4M742.4 775.5H743.6M743.1 790.9H744.3M744.3 784.7H745.5M745.0 784.7H746.2M746.2 788.2H747.4M746.8 788.2H748.0M748.0 786.0H749.2M748.7 786.0H749.9M749.9 788.8H751.1M750.6 788.8H751.8M751.8 785.2H753.0M752.4 803.6H753.6M753.6 801.2H754.8M754.3 801.2H755.5M755.5 805.1H756.7M756.2 805.1H757.4M757.4 806.0H758.6M758.0 746.5H759.2M759.2 770.8H760.4M759.9 714.1H761.1M761.1 728.6H762.3M761.8 711.1H763.0M763.0 717.9H764.2M763.6 717.9H764.8M764.8 708.2H766.0M765.5 716.0H766.7M766.7 714.1H767.9M767.4 728.2H768.6M768.6 728.5H769.8M769.3 728.5H770.5M770.5 729.0H771.7M771.1 729.0H772.3M772.3 724.0H773.5M773.0 732.7H774.2M774.2 732.8H775.4M774.9 752.0H776.1M776.1 748.4H777.3M776.7 748.4H777.9M777.9 747.9H779.1M778.6 747.9H779.8M779.8 763.8H781.0M780.5 753.8H781.7M781.7 749.6H782.9M782.3 745.9H783.5M783.5 739.6H784.7M784.2 739.6H785.4M785.4 741.7H786.6M786.1 741.7H787.3M787.3 738.2H788.5M788.0 750.5H789.2M789.2 750.6H790.4M789.8 750.6H791.0M791.0 754.1H792.2M791.7 786.5H792.9M792.9 788.1H794.1M793.6 775.1H794.8M794.8 775.8H796.0M795.4 790.1H796.6M796.6 794.8H797.8M797.3 794.8H798.5M798.5 795.7H799.7M799.2 795.7H800.4M800.4 798.7H801.6M801.0 785.3H802.2M802.2 782.5H803.4M802.9 782.5H804.1M804.1 787.8H805.3M804.8 787.8H806.0M806.0 793.5H807.2M806.6 793.5H807.8M807.8 792.8H809.0M808.5 792.8H809.7M809.7 812.1H810.9M810.4 778.5H811.6M811.6 790.5H812.8M812.3 765.7H813.5M813.5 754.8H814.7M814.1 751.1H815.3M815.3 752.7H816.5M816.0 730.4H817.2M817.2 726.9H818.4M817.9 726.9H819.1M819.1 725.8H820.3M819.7 725.8H820.9M820.9 734.8H822.1M821.6 734.8H822.8M822.8 731.0H824.0M823.5 744.2H824.7M824.7 737.9H825.9M825.3 737.9H826.5M826.5 752.2H827.7M827.2 752.2H828.4M828.4 743.5H829.6M829.1 743.5H830.3M830.3 743.9H831.5M830.9 743.9H832.1M832.1 750.4H833.3M832.8 732.5H834.0M834.0 735.6H835.2M834.7 732.3H835.9M835.9 729.7H837.1M836.6 716.9H837.8M837.8 718.6H839.0M838.4 718.6H839.6M839.6 714.9H840.8M840.3 714.9H841.5M841.5 716.6H842.7M842.2 749.4H843.4M843.4 747.2H844.6M844.0 753.5H845.2M845.2 764.6H846.4M845.9 764.6H847.1M847.1 753.6H848.3M847.8 753.6H849.0M849.0 750.7H850.2M849.6 733.0H850.8M850.8 731.8H852.0M851.5 731.8H852.7M852.7 731.7H853.9M853.4 709.5H854.6M854.6 715.8H855.8M855.3 701.8H856.5M856.5 706.0H857.7M857.1 662.9H858.3M858.3 667.8H859.5M859.0 667.8H860.2M860.2 662.1H861.4M860.9 652.7H862.1M862.1 645.5H863.3M862.7 659.5H863.9M863.9 655.7H865.1M864.6 658.8H865.8M865.8 661.3H867.0M866.5 661.3H867.7M867.7 654.5H868.9M868.3 641.9H869.5M869.5 630.4H870.7M870.2 617.6H871.4M871.4 624.2H872.6M872.1 618.5H873.3M873.3 615.3H874.5M873.9 598.5H875.1M875.1 597.1H876.3M875.8 597.1H877.0M877.0 583.6H878.2M877.7 559.9H878.9M878.9 559.4H880.1M879.6 559.4H880.8M880.8 550.4H882.0M881.4 550.4H882.6M882.6 545.2H883.8M883.3 545.2H884.5M884.5 546.6H885.7M885.2 546.6H886.4M886.4 557.4H887.6M887.0 557.4H888.2M888.2 539.6H889.4M888.9 539.6H890.1M890.1 542.6H891.3M890.8 532.9H892.0M892.0 531.8H893.2M892.6 531.8H893.8M893.8 531.1H895.0M894.5 531.1H895.7M895.7 533.3H896.9M896.4 529.8H897.6M897.6 528.8H898.8M898.3 524.8H899.5M899.5 522.2H900.7M900.1 526.9H901.3M901.3 527.6H902.5M902.0 527.6H903.2M903.2 531.7H904.4M903.9 531.7H905.1M905.1 528.0H906.3M905.7 528.0H906.9M906.9 524.5H908.1M907.6 524.5H908.8M908.8 523.0H910.0M909.5 523.0H910.7M910.7 520.1H911.9M911.3 530.9H912.5M912.5 524.1H913.7M913.2 549.3H914.4M914.4 555.0H915.6M915.1 535.2H916.3M916.3 538.1H917.5M916.9 538.1H918.1M918.1 534.6H919.3M918.8 534.6H920.0M920.0 528.9H921.2M920.7 528.9H921.9M921.9 527.3H923.1M922.6 527.3H923.8M923.8 527.4H925.0M924.4 527.4H925.6M925.6 531.1H926.8M926.3 531.1H927.5M927.5 530.7H928.7M928.2 530.7H929.4M929.4 535.7H930.6M930.0 535.7H931.2M931.2 525.4H932.4M931.9 525.4H933.1M933.1 520.2H934.3M933.8 506.0H935.0M935.0 508.8H936.2M935.6 508.8H936.8M936.8 505.9H938.0M937.5 505.9H938.7M938.7 500.5H939.9M939.4 500.5H940.6M940.6 505.3H941.8M941.2 505.3H942.4M942.4 490.8H943.6M943.1 498.2H944.3M944.3 498.8H945.5M945.0 498.8H946.2M946.2 496.7H947.4M946.9 496.7H948.1M948.1 488.3H949.3M948.7 502.0H949.9M949.9 493.5H951.1M950.6 493.5H951.8M951.8 500.2H953.0M952.5 513.4H953.7M953.7 509.1H954.9M954.3 522.5H955.5M955.5 518.9H956.7M956.2 518.9H957.4M957.4 519.2H958.6M958.1 519.2H959.3M959.3 525.9H960.5M959.9 525.9H961.1M961.1 526.4H962.3M961.8 526.4H963.0M963.0 524.5H964.2M963.7 536.9H964.9M964.9 535.8H966.1M965.6 529.1H966.8M966.8 531.0H968.0M967.4 531.0H968.6M968.6 527.7H969.8M969.3 527.7H970.5M970.5 525.5H971.7M971.2 511.3H972.4M972.4 513.6H973.6M973.0 513.6H974.2M974.2 511.3H975.4M974.9 511.3H976.1M976.1 506.8H977.3M976.8 506.8H978.0M978.0 504.3H979.2M978.6 504.3H979.8M979.8 505.4H981.0M980.5 505.4H981.7M981.7 515.0H982.9M982.4 504.6H983.6M983.6 504.6H984.8M984.2 504.6H985.4M985.4 500.0H986.6M986.1 496.9H987.3M987.3 491.3H988.5M988.0 491.3H989.2M989.2 478.6H990.4M989.9 478.6H991.1M991.1 476.8H992.3M991.7 454.5H992.9M992.9 457.6H994.1M993.6 419.2H994.8M994.8 420.8H996.0M995.5 420.8H996.7M996.7 418.7H997.9M997.3 425.5H998.5M998.5 430.4H999.7M999.2 430.4H1000.4M1000.4 446.7H1001.6M1001.1 427.4H1002.3M1002.3 420.9H1003.5M1002.9 409.6H1004.1M1004.1 410.7H1005.3M1004.8 410.7H1006.0M1006.0 408.0H1007.2M1006.7 408.0H1007.9M1007.9 413.8H1009.1M1008.6 408.2H1009.8M1009.8 405.0H1011.0M1010.4 398.5H1011.6M1011.6 395.5H1012.8M1012.3 395.5H1013.5M1013.5 393.6H1014.7M1014.2 390.6H1015.4M1015.4 387.7H1016.6M1016.0 379.8H1017.2M1017.2 380.0H1018.4M1017.9 380.0H1019.1M1019.1 380.3H1020.3M1019.8 380.3H1021.0M1021.0 381.5H1022.2M1021.6 376.9H1022.8M1022.8 379.5H1024.0M1023.5 379.5H1024.7M1024.7 372.1H1025.9M1025.4 361.2H1026.6M1026.6 356.7H1027.8M1027.2 356.7H1028.4M1028.4 367.1H1029.6M1029.1 372.0H1030.3M1030.3 372.4H1031.5M1031.0 372.4H1032.2M1032.2 370.5H1033.4M1032.9 370.5H1034.1M1034.1 372.2H1035.3M1034.7 372.2H1035.9M1035.9 373.0H1037.1M1036.6 356.7H1037.8M1037.8 357.9H1039.0M1038.5 357.9H1039.7M1039.7 364.2H1040.9M1040.3 364.2H1041.5M1041.5 361.5H1042.7M1042.2 361.5H1043.4M1043.4 359.7H1044.6M1044.1 359.7H1045.3M1045.3 356.0H1046.5M1045.9 356.0H1047.1M1047.1 358.4H1048.3M1047.8 358.4H1049.0M1049.0 351.6H1050.2M1049.7 351.6H1050.9M1050.9 358.3H1052.1M1051.5 358.3H1052.8M1052.8 358.3H1054.0M1053.4 339.5H1054.6M1054.6 342.5H1055.8M1055.3 342.5H1056.5M1056.5 341.9H1057.7M1057.2 341.9H1058.4M1058.4 342.2H1059.6M1059.0 342.2H1060.2M1060.2 343.3H1061.4M1060.9 343.3H1062.1M1062.1 336.7H1063.3M1062.8 336.7H1064.0M1064.0 340.0H1065.2M1064.6 340.0H1065.8M1065.8 336.1H1067.0M1066.5 361.1H1067.7M1067.7 353.6H1068.9M1068.4 348.2H1069.6M1069.6 350.0H1070.8M1070.2 350.0H1071.4M1071.4 347.8H1072.6M1072.1 330.6H1073.3M1073.3 331.1H1074.5M1074.0 322.6H1075.2M1075.2 328.3H1076.4M1075.9 313.8H1077.1M1077.1 319.7H1078.3M1077.7 313.6H1078.9M1078.9 311.2H1080.1M1079.6 307.0H1080.8M1080.8 304.3H1082.0M1081.5 304.3H1082.7M1082.7 297.2H1083.9M1083.3 297.2H1084.5M1084.5 306.8H1085.7M1085.2 306.8H1086.4M1086.4 307.2H1087.6M1087.1 307.2H1088.3M1088.3 306.5H1089.5M1088.9 298.6H1090.1M1090.1 303.6H1091.3M1090.8 287.4H1092.0M1092.0 275.7H1093.2M1092.7 275.7H1093.9M1093.9 277.1H1095.1M1094.5 277.1H1095.7M1095.7 277.0H1096.9M1096.4 277.0H1097.6M1097.6 277.3H1098.8M1098.3 277.3H1099.5M1099.5 283.5H1100.7M1100.2 259.8H1101.4M1101.4 260.4H1102.6M1102.0 256.1H1103.2M1103.2 250.4H1104.4M1103.9 241.3H1105.1M1105.1 241.4H1106.3M1105.8 241.4H1107.0M1107.0 244.6H1108.2M1107.6 240.1H1108.8M1108.8 240.5H1110.0M1109.5 231.6H1110.7M1110.7 228.9H1111.9M1111.4 228.9H1112.6M1112.6 228.0H1113.8M1113.2 222.1H1114.4M1114.4 223.6H1115.6M1115.1 223.6H1116.3M1116.3 224.7H1117.5M1117.0 207.8H1118.2M1118.2 208.7H1119.4M1118.9 202.1H1120.1M1120.1 206.6H1121.3M1120.7 206.6H1121.9M1121.9 196.0H1123.1M1122.6 196.0H1123.8M1123.8 189.6H1125.0M1124.5 193.5H1125.7M1125.7 192.6H1126.9M1126.3 192.6H1127.5M1127.5 185.3H1128.7M1128.2 193.9H1129.4M1129.4 194.3H1130.6M1130.1 194.3H1131.3M1131.3 192.2H1132.5M1131.9 193.4H1133.1M1133.1 196.5H1134.3M1133.8 196.5H1135.0M1135.0 197.6H1136.2M1135.7 197.6H1136.9M1136.9 201.5H1138.1M1137.5 201.5H1138.7M1138.7 209.4H1139.9M1139.4 209.4H1140.6M1140.6 210.3H1141.8M1141.3 210.3H1142.5M1142.5 210.4H1143.7M1143.2 202.0H1144.4M1144.4 203.2H1145.6M1145.0 212.3H1146.2M1146.2 208.0H1147.4M1146.9 227.5H1148.1M1148.1 220.0H1149.3M1148.8 220.0H1150.0M1150.0 218.1H1151.2M1150.6 218.1H1151.8M1151.8 211.7H1153.0M1152.5 211.7H1153.7M1153.7 208.8H1154.9M1154.4 208.8H1155.6M1155.6 214.9H1156.8M1156.2 214.9H1157.4M1157.4 210.6H1158.6M1158.1 215.9H1159.3M1159.3 215.1H1160.5M1160.0 220.1H1161.2M1161.2 221.7H1162.4M1161.9 221.7H1163.1M1163.1 225.5H1164.3M1163.7 222.8H1164.9M1164.9 223.2H1166.1M1165.6 223.2H1166.8M1166.8 220.7H1168.0M1167.5 225.5H1168.7M1168.7 224.1H1169.9M1169.3 235.9H1170.5M1170.5 233.3H1171.7M1171.2 244.7H1172.4M1172.4 244.9H1173.6M1173.1 244.9H1174.3M1174.3 243.4H1175.5M1174.9 243.4H1176.1M1176.1 233.6H1177.3M1176.8 233.6H1178.0M1178.0 241.4H1179.2M1178.7 232.2H1179.9M1179.9 239.0H1181.1M1180.5 239.0H1181.7M1181.7 243.0H1182.9M1182.4 245.0H1183.6M1183.6 246.3H1184.8M1184.3 252.8H1185.5M1185.5 252.0H1186.7M1186.2 284.4H1187.4M1187.4 280.3H1188.6M1188.0 264.8H1189.2M1189.2 270.9H1190.4M1189.9 263.1H1191.1M1191.1 265.8H1192.3M1191.8 259.8H1193.0M1193.0 257.7H1194.2M1193.6 257.7H1194.8M1194.8 252.0H1196.0M1195.5 252.0H1196.7M1196.7 254.9H1197.9M1197.4 254.9H1198.6M1198.6 248.8H1199.8M1199.2 248.8H1200.4M1200.4 248.6H1201.6M1201.1 240.0H1202.3M1202.3 242.5H1203.5M1203.0 242.5H1204.2M1204.2 248.9H1205.4M1204.8 248.9H1206.0M1206.0 246.8H1207.2M1206.7 246.8H1207.9M1207.9 253.4H1209.1M1208.6 240.4H1209.8M1209.8 245.5H1211.0M1210.5 232.4H1211.7M1211.7 239.9H1212.9M1212.3 239.9H1213.5M1213.5 234.0H1214.7M1214.2 234.0H1215.4M1215.4 232.7H1216.6M1216.1 221.1H1217.3M1217.3 223.5H1218.5M1217.9 215.8H1219.1M1219.1 211.0H1220.3M1219.8 211.0H1221.0M1221.0 208.0H1222.2M1221.7 219.6H1222.9M1222.9 214.4H1224.1M1223.5 227.6H1224.7M1224.7 222.5H1225.9M1225.4 228.6H1226.6M1226.6 228.5H1227.8M1227.3 240.2H1228.5M1228.5 241.6H1229.7M1229.2 241.6H1230.4M1230.4 245.0H1231.6M1231.0 245.0H1232.2M1232.2 240.3H1233.4M1232.9 219.5H1234.1M1234.1 227.0H1235.3M1234.8 209.9H1236.0M1236.0 200.2H1237.2M1236.6 216.7H1237.8M1237.8 225.4H1239.0M1238.5 227.2H1239.7M1239.7 232.9H1240.9M1240.4 232.9H1241.6M1241.6 232.1H1242.8M1242.2 232.1H1243.4M1243.4 234.1H1244.6M1244.1 238.7H1245.3M1245.3 237.0H1246.5M1246.0 237.0H1247.2M1247.2 231.7H1248.4M1247.8 224.0H1249.0M1249.0 229.7H1250.2M1249.7 229.7H1250.9M1250.9 224.5H1252.1M1251.6 223.6H1252.8M1252.8 220.4H1254.0M1253.5 220.4H1254.7M1254.7 227.1H1255.9M1255.3 227.1H1256.5M1256.5 231.1H1257.7M1257.2 224.2H1258.4M1258.4 220.7H1259.6M1259.1 220.7H1260.3M1260.3 223.8H1261.5M1260.9 223.8H1262.1M1262.1 226.5H1263.3M1262.8 226.5H1264.0M1264.0 223.9H1265.2M1264.7 228.5H1265.9M1265.9 226.3H1267.1M1266.5 231.9H1267.7M1267.7 233.8H1268.9M1268.4 263.8H1269.6M1269.6 267.8H1270.8M1270.3 239.1H1271.5M1271.5 252.6H1272.7M1272.2 240.6H1273.4M1273.4 248.8H1274.6M1274.0 240.1H1275.2M1275.2 239.4H1276.4M1275.9 225.2H1277.1M1277.1 223.6H1278.3M1277.8 223.6H1279.0M1279.0 221.4H1280.2M1279.6 221.4H1280.8M1280.8 229.7H1282.0M1281.5 229.7H1282.7M1282.7 231.7H1283.9M1283.4 231.7H1284.6M1284.6 240.6H1285.8M1285.2 240.6H1286.4M1286.4 231.2H1287.6M1287.1 231.2H1288.3M1288.3 231.1H1289.5M1289.0 229.7H1290.2M1290.2 227.9H1291.4M1290.8 222.2H1292.0M1292.0 218.6H1293.2M1292.7 209.3H1293.9M1293.9 210.6H1295.1M1294.6 206.6H1295.8M1295.8 206.1H1297.0M1296.5 192.0H1297.7M1297.7 198.9H1298.9M1298.3 198.9H1299.5M1299.5 187.8H1300.7M1300.2 202.8H1301.4M1301.4 205.7H1302.6M1302.1 191.2H1303.3M1303.3 197.1H1304.5M1303.9 186.3H1305.1M1305.1 180.2H1306.3M1305.8 180.2H1307.0M1307.0 176.9H1308.2M1307.7 176.9H1308.9M1308.9 173.0H1310.1M1309.5 173.0H1310.7M1310.7 163.2H1311.9M1311.4 158.7H1312.6M1312.6 153.9H1313.8M1313.3 153.9H1314.5M1314.5 158.5H1315.7M1315.1 149.1H1316.3M1316.3 147.2H1317.5M1317.0 147.2H1318.2M1318.2 146.9H1319.4M1318.9 138.2H1320.1M1320.1 140.7H1321.3M1320.8 140.7H1322.0M1322.0 139.5H1323.2M1322.6 139.5H1323.8M1323.8 140.1H1325.0M1324.5 140.1H1325.7M1325.7 143.9H1326.9M1326.4 143.9H1327.6M1327.6 141.5H1328.8M1328.2 141.5H1329.4M1329.4 144.9H1330.6M1330.1 135.8H1331.3M1331.3 139.0H1332.5M1332.0 139.0H1333.2M1333.2 134.3H1334.4M1333.8 134.3H1335.0M1335.0 133.7H1336.2M1335.7 129.2H1336.9M1336.9 129.3H1338.1M1337.6 129.3H1338.8M1338.8 129.2H1340.0M1339.5 129.2H1340.7M1340.7 122.1H1341.9M1341.3 125.4H1342.5M1342.5 134.0H1343.7M1343.2 134.0H1344.4M1344.4 127.5H1345.6M1345.1 127.5H1346.3M1346.3 128.9H1347.5M1346.9 128.9H1348.1M1348.1 133.6H1349.3M1348.8 133.6H1350.0M1350.0 135.6H1351.2M1350.7 135.6H1351.9M1351.9 137.5H1353.1M1352.5 140.0H1353.7M1353.7 148.7H1354.9M1354.4 148.7H1355.6M1355.6 144.4H1356.8M1356.3 144.4H1357.5M1357.5 144.6H1358.7M1358.1 144.6H1359.3M1359.3 148.8H1360.5M1360.0 157.1H1361.2M1361.2 162.8H1362.4M1361.9 162.8H1363.1M1363.1 163.8H1364.3M1363.8 172.8H1365.0M1365.0 172.5H1366.2M1365.6 185.8H1366.8M1366.8 182.0H1368.0M1367.5 164.0H1368.7M1368.7 159.9H1369.9M1369.4 159.9H1370.6M1370.6 152.9H1371.8M1371.2 146.1H1372.4M1372.4 151.3H1373.6M1373.1 151.3H1374.3M1374.3 149.7H1375.5M1375.0 149.7H1376.2M1376.2 155.7H1377.4M1376.8 155.7H1378.0M1378.0 142.0H1379.2M1378.7 159.8H1379.9M1379.9 153.2H1381.1M1380.6 153.2H1381.8M1381.8 158.8H1383.0M1382.5 158.8H1383.7M1383.7 160.0H1384.9M1384.3 169.7H1385.5M1385.5 164.9H1386.7M1386.2 164.9H1387.4M1387.4 160.2H1388.6M1388.1 173.6H1389.3M1389.3 176.0H1390.5M1389.9 205.9H1391.1M1391.1 213.3H1392.3M1391.8 197.4H1393.0M1393.0 194.5H1394.2M1393.7 191.3H1394.9M1394.9 182.9H1396.1M1395.5 182.9H1396.7M1396.7 176.5H1397.9M1397.4 163.8H1398.6M1398.6 167.6H1399.8M1399.3 167.6H1400.5M1400.5 165.6H1401.7M1401.1 165.6H1402.3M1402.3 166.7H1403.5M1403.0 166.7H1404.2M1404.2 159.0H1405.4M1404.9 159.0H1406.1M1406.1 154.4H1407.3M1406.8 154.4H1408.0M1408.0 156.3H1409.2M1408.6 156.3H1409.8M1409.8 155.2H1411.0M1410.5 125.9H1411.7M1411.7 135.0H1412.9M1412.4 135.0H1413.6M1413.6 133.7H1414.8M1414.2 128.5H1415.4M1415.4 120.8H1416.6M1416.1 120.8H1417.3M1417.3 121.4H1418.5M1418.0 100.6H1419.2M1419.2 109.0H1420.4M1419.8 73.2H1421.0M1421.0 91.2H1422.2M1421.7 76.4H1422.9M1422.9 76.3H1424.1M1423.6 76.3H1424.8M1424.8 60.7H1426.0M1425.4 60.7H1426.6M1426.6 59.7H1427.8M1427.3 59.7H1428.5M1428.5 78.4H1429.7M1429.2 78.4H1430.4M1430.4 82.1H1431.6M1431.1 82.1H1432.3M1432.3 84.2H1433.5M1432.9 100.2H1434.1M1434.1 97.8H1435.3M1434.8 126.5H1436.0M1436.0 126.9H1437.2M1436.7 104.8H1437.9M1437.9 119.1H1439.1M1438.5 100.3H1439.7M1439.7 97.4H1440.9M1440.4 107.9H1441.6M1441.6 108.2H1442.8M1442.3 108.2H1443.5M1443.5 117.9H1444.7M1444.1 106.5H1445.3M1445.3 105.0H1446.5M1446.0 105.0H1447.2M1447.2 93.3H1448.4M1447.9 93.3H1449.1M1449.1 71.7H1450.3M1449.8 83.5H1451.0M1451.0 86.5H1452.2M1451.6 79.6H1452.8M1452.8 67.6H1454.0M1453.5 67.6H1454.7M1454.7 77.8H1455.9M1455.4 62.0H1456.6M1456.6 59.2H1457.8M1457.2 59.2H1458.4M1458.4 64.2H1459.6M1459.1 56.3H1460.3M1460.3 57.4H1461.5M1461.0 62.6H1462.2M1462.2 70.9H1463.4M1462.8 70.9H1464.0M1464.0 75.4H1465.2M1464.7 75.4H1465.9M1465.9 73.6H1467.1M1466.6 73.6H1467.8M1467.8 79.6H1469.0M1468.4 79.6H1469.6M1469.6 87.3H1470.8M1470.3 87.3H1471.5M1471.5 94.2H1472.7M1472.2 94.2H1473.4M1473.4 100.9H1474.6M1474.1 100.9H1475.3M1475.3 98.3H1476.5M1475.9 141.1H1477.1M1477.1 140.3H1478.3M1477.8 119.2H1479.0M1479.0 105.9H1480.2M1479.7 105.9H1480.9M1480.9 104.4H1482.1M1481.5 89.3H1482.7M1482.7 96.3H1483.9M1483.4 74.8H1484.6M1484.6 85.0H1485.8M1485.3 85.0H1486.5M1486.5 86.0H1487.7M1487.1 86.0H1488.3M1488.3 84.2H1489.5M1489.0 101.1H1490.2M1490.2 90.5H1491.4M1490.9 113.5H1492.1M1492.1 119.3H1493.3M1492.8 95.3H1494.0M1494.0 99.4H1495.2M1494.6 99.4H1495.8M1495.8 100.1H1497.0M1496.5 88.1H1497.7M1497.7 88.5H1498.9M1498.4 88.5H1499.6M1499.6 81.2H1500.8M1500.2 81.2H1501.4M1501.4 79.0H1502.6M1502.1 64.7H1503.3M1503.3 63.0H1504.5M1504.0 56.6H1505.2M1505.2 55.1H1506.4M1505.8 55.1H1507.0M1507.0 44.1H1508.2M1507.7 34.0H1508.9M1508.9 39.1H1510.1M1509.6 39.1H1510.8M1510.8 40.6H1512.0M1511.4 53.0H1512.6M1512.6 58.9H1513.8M1513.3 58.9H1514.5M1514.5 66.7H1515.7M1515.2 66.7H1516.4M1516.4 65.6H1517.6M1517.1 65.6H1518.3M1518.3 50.2H1519.5M1518.9 50.2H1520.1M1520.1 56.5H1521.3M1520.8 56.5H1522.0M1522.0 53.4H1523.2M1522.7 53.4H1523.9M1523.9 54.7H1525.1M1524.5 71.7H1525.7M1525.7 66.9H1526.9M1526.4 66.9H1527.6M1527.6 72.1H1528.8M1528.3 72.1H1529.5M1529.5 66.7H1530.7M1530.1 66.7H1531.3M1531.3 69.9H1532.5M1532.0 83.7H1533.2M1533.2 85.2H1534.4M1533.9 85.2H1535.1M1535.1 90.8H1536.3M1535.8 90.8H1537.0M1537.0 97.5H1538.2M1537.6 97.5H1538.8M1538.8 96.7H1540.0M1539.5 102.4H1540.7M1540.7 104.4H1541.9M1541.4 104.4H1542.6M1542.6 110.1H1543.8M1543.2 102.9H1544.4M1544.4 105.4H1545.6M1545.1 105.4H1546.3M1546.3 101.7H1547.5M1547.0 101.7H1548.2M1548.2 84.2H1549.4M1548.8 84.2H1550.0M1550.0 76.1H1551.2M1550.7 93.6H1551.9M1551.9 110.9H1553.1M1552.6 118.4H1553.8M1553.8 119.6H1555.0M1554.4 144.5H1555.6M1555.6 133.1H1556.8M1556.3 133.1H1557.5M1557.5 138.9H1558.7M1558.2 138.9H1559.4M1559.4 151.4H1560.6M1560.1 146.2H1561.3M1561.3 148.8H1562.5M1561.9 148.8H1563.1M1563.1 161.5H1564.3M1563.8 145.8H1565.0M1565.0 155.0H1566.2M1565.7 155.0H1566.9M1566.9 150.4H1568.1M1567.5 170.3H1568.7M1568.7 155.8H1569.9M1569.4 173.4H1570.6M1570.6 166.1H1571.8M1571.3 182.6H1572.5M1572.5 175.0H1573.7M1573.1 189.3H1574.3M1574.3 206.5H1575.5M1575.0 199.1H1576.2M1576.2 202.2H1577.4M1576.9 202.2H1578.1M1578.1 206.3H1579.3M1578.7 206.3H1579.9M1579.9 195.2H1581.1M1580.6 195.2H1581.8M1581.8 187.5H1583.0M1582.5 187.5H1583.7M1583.7 187.1H1584.9M1584.4 180.0H1585.6M1585.6 175.8H1586.8M1586.2 182.3H1587.4M1587.4 187.1H1588.6M1588.1 187.1H1589.3M1589.3 195.2H1590.5M1590.0 195.2H1591.2M1591.2 190.2H1592.4M1591.8 190.2H1593.0M1593.0 177.1H1594.2M1593.7 177.1H1594.9M1594.9 186.3H1596.1M1595.6 171.9H1596.8M1596.8 178.5H1598.0M1597.4 156.8H1598.6M1598.6 161.1H1599.8M1599.3 147.5H1600.5M1600.5 143.5H1601.7M1601.2 134.5H1602.4M1602.4 136.6H1603.6M1603.1 136.6H1604.3M1604.3 144.2H1605.5M1604.9 131.8H1606.1M1606.1 129.6H1607.3M1606.8 129.6H1608.0M1608.0 134.5H1609.2M1608.7 134.5H1609.9M1609.9 121.5H1611.1M1610.5 121.5H1611.7M1611.7 129.4H1612.9M1612.4 129.4H1613.6M1613.6 138.7H1614.8M1614.3 138.7H1615.5M1615.5 148.7H1616.7M1616.1 183.7H1617.3M1617.3 187.8H1618.5M1618.0 216.0H1619.2M1619.2 211.8H1620.4M1619.9 211.8H1621.1M1621.1 215.1H1622.3M1621.7 217.3H1622.9M1622.9 220.7H1624.1M1623.6 227.7H1624.8M1624.8 243.9H1626.0M1625.5 243.9H1626.7M1626.7 244.9H1627.9M1627.4 244.9H1628.6M1628.6 234.8H1629.8M1629.2 254.6H1630.4M1630.4 254.4H1631.6M1631.1 260.1H1632.3M1632.3 263.2H1633.5M1633.0 263.2H1634.2M1634.2 260.1H1635.4M1634.8 260.1H1636.0M1636.0 254.4H1637.2M1636.7 254.4H1637.9M1637.9 243.9H1639.1M1638.6 243.9H1639.8M1639.8 249.8H1641.0M1640.4 249.8H1641.6M1641.6 254.7H1642.8M1642.3 267.7H1643.5M1643.5 266.7H1644.7M1644.2 266.7H1645.4M1645.4 272.2H1646.6M1646.1 272.2H1647.3M1647.3 266.2H1648.5M1647.9 256.0H1649.1M1649.1 253.5H1650.3M1649.8 253.5H1651.0M1651.0 244.3H1652.2M1651.7 244.3H1652.9M1652.9 254.1H1654.1M1653.5 254.1H1654.7M1654.7 257.9H1655.9M1655.4 257.9H1656.6M1656.6 262.1H1657.8M1657.3 294.5H1658.5M1658.5 292.2H1659.7M1659.1 276.1H1660.3M1660.3 281.6H1661.5M1661.0 276.2H1662.2M1662.2 268.5H1663.4M1662.9 255.8H1664.1M1664.1 259.4H1665.3M1664.7 254.5H1665.9M1665.9 249.5H1667.1M1666.6 249.5H1667.8M1667.8 249.2H1669.0M1668.5 249.2H1669.7M1669.7 236.7H1670.9M1670.4 236.7H1671.6M1671.6 235.3H1672.8M1672.2 235.3H1673.4M1673.4 228.4H1674.6M1674.1 228.4H1675.3M1675.3 224.9H1676.5M1676.0 224.9H1677.2M1677.2 222.3H1678.4M1677.8 222.3H1679.0M1679.0 226.7H1680.2M1679.7 222.7H1680.9M1680.9 209.0H1682.1M1681.6 215.2H1682.8M1682.8 219.4H1684.0M1683.4 219.4H1684.6M1684.6 214.4H1685.8M1685.3 218.8H1686.5M1686.5 219.7H1687.7M1687.2 219.7H1688.4M1688.4 212.2H1689.6M1689.0 212.2H1690.2M1690.2 216.5H1691.4M1690.9 216.5H1692.1M1692.1 210.9H1693.3M1692.8 200.7H1694.0M1694.0 207.2H1695.2M1694.7 184.2H1695.9M1695.9 183.3H1697.1M1696.5 183.3H1697.7M1697.7 193.1H1698.9M1698.4 175.1H1699.6M1699.6 179.3H1700.8M1700.3 172.0H1701.5M1701.5 173.5H1702.7M1702.1 164.0H1703.3M1703.3 162.0H1704.5M1704.0 162.0H1705.2M1705.2 163.8H1706.4M1705.9 163.8H1707.1M1707.1 164.2H1708.3M1707.7 175.1H1708.9M1708.9 176.9H1710.1M1709.6 191.1H1710.8M1710.8 183.3H1712.0M1711.5 193.7H1712.7M1712.7 201.4H1713.9M1713.4 201.4H1714.6M1714.6 203.4H1715.8M1715.2 203.4H1716.4M1716.4 197.7H1717.6M1717.1 218.3H1718.3M1718.3 210.3H1719.5M1719.0 235.6H1720.2M1720.2 225.0H1721.4M1720.8 257.2H1722.0M1722.0 252.1H1723.2M1722.7 268.9H1723.9M1723.9 278.7H1725.1M1724.6 285.8H1725.8M1725.8 285.4H1727.0M1726.4 270.7H1727.6M1727.6 276.8H1728.8M1728.3 276.8H1729.5M1729.5 285.1H1730.7M1730.2 280.2H1731.4M1731.4 277.3H1732.6M1732.0 270.0H1733.2M1733.2 255.3H1734.4M1733.9 231.1H1735.1M1735.1 240.0H1736.3M1735.8 235.6H1737.0M1737.0 233.5H1738.2M1737.7 242.0H1738.9M1738.9 242.9H1740.1M1739.5 242.9H1740.7M1740.7 239.3H1741.9M1741.4 239.3H1742.6M1742.6 247.1H1743.8M1743.3 247.1H1744.5M1744.5 245.8H1745.7M1745.1 245.8H1746.3M1746.3 248.8H1747.5M1747.0 248.8H1748.2M1748.2 257.5H1749.4M1748.9 271.0H1750.1M1750.1 265.4H1751.3M1750.7 265.4H1751.9M1751.9 268.9H1753.1M1752.6 307.2H1753.8M1753.8 299.2H1755.0M1754.5 314.2H1755.7M1755.7 317.0H1756.9M1756.4 317.0H1757.6M1757.6 329.3H1758.8M1758.2 329.3H1759.4M1759.4 309.7H1760.6M1760.1 309.7H1761.3M1761.3 313.1H1762.5M1762.0 313.1H1763.2M1763.2 312.9H1764.4M1763.8 312.9H1765.0M1765.0 302.0H1766.2M1765.7 285.4H1766.9M1766.9 290.0H1768.1M1767.6 290.0H1768.8M1768.8 294.0H1770.0M1769.4 308.2H1770.6M1770.6 305.2H1771.8M1771.3 330.3H1772.5M1772.5 323.9H1773.7M1773.2 353.9H1774.4M1774.4 353.0H1775.6M1775.0 353.0H1776.2M1776.2 369.5H1777.4M1776.9 369.5H1778.1M1778.1 370.3H1779.3M1778.8 370.3H1780.0M1780.0 374.3H1781.2M1780.7 349.2H1781.9M1781.9 344.2H1783.1M1782.5 337.1H1783.7M1783.7 337.1H1784.9M1784.4 318.4H1785.6M1785.6 319.8H1786.8M1786.3 319.8H1787.5M1787.5 320.0H1788.7M1788.1 329.1H1789.3M1789.3 322.6H1790.5M1790.0 322.6H1791.2M1791.2 327.5H1792.4M1791.9 316.2H1793.1M1793.1 314.8H1794.3M1793.7 314.8H1794.9M1794.9 296.9H1796.1M1795.6 275.4H1796.8M1796.8 283.3H1798.0M1797.5 279.0H1798.7M1798.7 270.7H1799.9M1799.3 270.7H1800.5M1800.5 266.6H1801.8M1801.2 266.6H1802.4M1802.4 268.0H1803.6M1803.1 268.0H1804.3M1804.3 262.1H1805.5M1805.0 262.1H1806.2M1806.2 271.3H1807.4M1806.8 293.0H1808.0M1808.0 290.4H1809.2M1808.7 266.9H1809.9M1809.9 273.9H1811.1M1810.6 245.8H1811.8M1811.8 256.0H1813.0M1812.4 256.0H1813.6M1813.6 241.9H1814.8M1814.3 241.9H1815.5M1815.5 233.1H1816.7M1816.2 233.1H1817.4M1817.4 227.9H1818.6M1818.0 206.9H1819.2M1819.2 209.1H1820.4M1819.9 193.1H1821.1M1821.1 197.5H1822.3M1821.8 197.5H1823.0M1823.0 196.1H1824.2M1823.7 207.2H1824.9M1824.9 198.1H1826.1M1825.5 208.6H1826.7M1826.7 200.8H1827.9M1827.4 200.8H1828.6M1828.6 202.6H1829.8M1829.3 212.9H1830.5M1830.5 209.5H1831.7M1831.1 209.5H1832.3M1832.3 206.2H1833.5M1833.0 206.2H1834.2M1834.2 209.9H1835.4M1834.9 209.9H1836.1M1836.1 199.7H1837.3M1836.7 199.7H1837.9M1837.9 213.6H1839.1M1838.6 213.6H1839.8M1839.8 212.8H1841.0M1840.5 232.3H1841.7M1841.7 231.7H1842.9M1842.3 221.8H1843.5M1843.5 213.9H1844.7M1844.2 213.9H1845.4M1845.4 213.8H1846.6M1846.1 213.8H1847.3M1847.3 198.8H1848.5M1848.0 223.3H1849.2M1849.2 222.0H1850.4M1849.8 231.3H1851.0M1851.0 240.4H1852.2M1851.7 240.4H1852.9M1852.9 251.2H1854.1M1853.6 261.3H1854.8M1854.8 259.2H1856.0M1855.4 271.6H1856.6M1856.6 272.9H1857.8M1857.3 272.9H1858.5M1858.5 274.8H1859.7M1859.2 291.4H1860.4M1860.4 292.6H1861.6M1861.0 292.6H1862.2M1862.2 297.2H1863.4M1862.9 310.1H1864.1M1864.1 303.3H1865.3M1864.8 315.9H1866.0M1866.0 308.0H1867.2M1866.7 308.0H1867.9M1867.9 314.1H1869.1M1868.5 300.0H1869.7M1869.7 303.0H1870.9M1870.4 303.0H1871.6M1871.6 298.9H1872.8M1872.3 295.2H1873.5M1873.5 293.3H1874.7M1874.1 293.3H1875.3M1875.3 292.4H1876.5M1876.0 292.4H1877.2M1877.2 288.3H1878.4M1877.9 288.3H1879.1M1879.1 290.8H1880.3M1879.7 290.8H1880.9M1880.9 285.5H1882.1M1881.6 285.5H1882.8M1882.8 281.3H1884.0M1883.5 281.3H1884.7M1884.7 277.8H1885.9M1885.3 261.1H1886.5M1886.5 260.0H1887.7M1887.2 260.0H1888.4M1888.4 253.0H1889.6M1889.1 253.0H1890.3M1890.3 249.7H1891.5M1891.0 237.0H1892.2M1892.2 237.6H1893.4M1892.8 237.6H1894.0M1894.0 238.4H1895.2M1894.7 238.4H1895.9M1895.9 236.5H1897.1M1896.6 232.5H1897.8M1897.8 230.3H1899.0M1898.4 228.4H1899.6M1899.6 228.1H1900.8M1900.3 217.2H1901.5M1901.5 217.1H1902.7M1902.2 208.3H1903.4M1903.4 209.3H1904.6M1904.0 209.3H1905.2M1905.2 209.3H1906.4M1905.9 209.3H1907.1M1907.1 217.2H1908.3M1907.8 207.9H1909.0M1909.0 207.1H1910.2M1909.7 193.2H1910.9M1910.9 194.6H1912.1M1911.5 194.6H1912.7M1912.7 195.0H1913.9M1913.4 195.0H1914.6M1914.6 197.3H1915.8M1915.3 194.5H1916.5M1916.5 187.9H1917.7M1917.1 187.9H1918.3M1918.3 179.1H1919.5M1919.0 186.5H1920.2M1920.2 188.4H1921.4M1920.9 188.4H1922.1M1922.1 191.6H1923.3M1922.7 183.5H1923.9M1923.9 177.9H1925.1M1924.6 177.9H1925.8M1925.8 175.5H1927.0M1926.5 175.5H1927.7M1927.7 174.9H1928.9M1928.3 174.9H1929.5M1929.5 167.5H1930.7M1930.2 167.5H1931.4M1931.4 169.2H1932.6M1932.1 169.2H1933.3M1933.3 165.6H1934.5M1934.0 165.6H1935.2M1935.2 174.5H1936.4M1935.8 174.5H1937.0M1937.0 181.4H1938.2M1937.7 174.5H1938.9M1938.9 170.7H1940.1M1939.6 170.7H1940.8M1940.8 178.3H1942.0M1941.4 178.3H1942.6M1942.6 174.0H1943.8M1943.3 179.5H1944.5M1944.5 184.8H1945.7M1945.2 184.8H1946.4M1946.4 190.9H1947.6M1947.0 199.1H1948.2M1948.2 199.5H1949.4M1948.9 206.3H1950.1M1950.1 221.5H1951.3M1950.8 221.5H1952.0M1952.0 220.5H1953.2M1952.6 220.5H1953.8M1953.8 222.8H1955.0M1954.5 222.8H1955.7M1955.7 230.7H1956.9M1956.4 230.7H1957.6M1957.6 230.1H1958.8M1958.3 230.1H1959.5M1959.5 235.7H1960.7M1960.1 235.7H1961.3M1961.3 234.4H1962.5M1962.0 230.8H1963.2M1963.2 231.0H1964.4M1963.9 231.0H1965.1M1965.1 220.1H1966.3M1965.7 240.0H1966.9M1966.9 243.4H1968.1M1967.6 260.9H1968.8M1968.8 259.1H1970.0M1969.5 262.2H1970.7M1970.7 275.8H1971.9M1971.3 296.8H1972.5M1972.5 289.9H1973.7M1973.2 314.1H1974.4M1974.4 345.1H1975.6M1975.1 304.9H1976.3M1976.3 295.8H1977.5M1977.0 324.6H1978.2M1978.2 332.1H1979.4M1978.8 326.2H1980.0M1980.0 322.8H1981.2M1980.7 322.8H1981.9M1981.9 331.9H1983.1M1982.6 323.1H1983.8M1983.8 323.4H1985.0M1984.4 323.4H1985.6M1985.6 325.9H1986.8M1986.3 325.9H1987.5M1987.5 320.8H1988.7M1988.2 325.3H1989.4M1989.4 329.2H1990.6M1990.0 349.0H1991.2M1991.2 350.6H1992.4M1991.9 331.9H1993.1M1993.1 334.8H1994.3M1993.8 328.9H1995.0M1995.0 329.6H1996.2M1995.6 311.8H1996.8M1996.8 306.2H1998.0M1997.5 306.2H1998.7M1998.7 306.4H1999.9M1999.4 306.4H2000.6M2000.6 296.7H2001.8M2001.3 283.8H2002.5M2002.5 282.5H2003.7M2003.1 282.5H2004.3M2004.3 287.0H2005.5M2005.0 301.6H2006.2M2006.2 296.8H2007.4M2006.9 296.8H2008.1M2008.1 304.1H2009.3M2008.7 304.1H2009.9M2009.9 303.7H2011.1M2010.6 286.5H2011.8M2011.8 282.7H2013.0M2012.5 282.7H2013.7M2013.7 287.1H2014.9M2014.3 281.7H2015.5M2015.5 276.2H2016.7M2016.2 276.2H2017.4M2017.4 271.4H2018.6M2018.1 271.4H2019.3M2019.3 277.5H2020.5M2020.0 277.5H2021.2M2021.2 261.7H2022.4M2021.8 261.7H2023.0M2023.0 261.5H2024.2M2023.7 261.5H2024.9M2024.9 267.5H2026.1M2025.6 267.5H2026.8M2026.8 269.7H2028.0M2027.4 269.7H2028.6M2028.6 269.6H2029.8M2029.3 285.2H2030.5M2030.5 277.2H2031.7M2031.2 285.2H2032.4M2032.4 301.3H2033.6M2033.0 294.5H2034.2M2034.2 287.8H2035.4M2034.9 287.8H2036.1M2036.1 273.8H2037.3M2036.8 273.8H2038.0M2038.0 270.1H2039.2M2038.6 291.9H2039.8M2039.8 281.1H2041.0M2040.5 303.8H2041.7M2041.7 307.6H2042.9M2042.4 307.6H2043.6M2043.6 307.4H2044.8M2044.3 332.5H2045.5M2045.5 319.7H2046.7M2046.1 294.5H2047.3M2047.3 291.7H2048.5M2048.0 291.7H2049.2M2049.2 293.1H2050.4M2049.9 297.0H2051.1M2051.1 304.6H2052.3M2051.7 304.6H2052.9M2052.9 302.6H2054.1M2053.6 302.6H2054.8M2054.8 302.9H2056.0M2055.5 302.9H2056.7M2056.7 305.7H2057.9M2057.3 284.4H2058.5M2058.5 288.2H2059.7M2059.2 288.2H2060.4M2060.4 285.3H2061.6M2061.1 294.2H2062.3M2062.3 295.0H2063.5M2062.9 295.0H2064.1M2064.1 297.8H2065.3M2064.8 297.8H2066.0M2066.0 288.3H2067.2M2066.7 288.3H2067.9M2067.9 305.1H2069.1M2068.6 305.1H2069.8M2069.8 309.6H2071.0M2070.4 345.8H2071.6M2071.6 339.1H2072.8M2072.3 354.4H2073.5M2073.5 354.0H2074.7M2074.2 341.1H2075.4M2075.4 334.7H2076.6M2076.0 334.7H2077.2M2077.2 332.8H2078.4M2077.9 346.4H2079.1M2079.1 344.0H2080.3M2079.8 333.3H2081.0M2081.0 327.7H2082.2M2081.6 327.7H2082.8M2082.8 322.3H2084.0M2083.5 305.7H2084.7M2084.7 314.6H2085.9M2085.4 314.6H2086.6M2086.6 314.7H2087.8M2087.3 293.2H2088.5M2088.5 289.5H2089.7M2089.1 298.9H2090.3M2090.3 294.8H2091.5M2091.0 299.8H2092.2M2092.2 297.1H2093.4M2092.9 308.2H2094.1M2094.1 303.9H2095.3M2094.7 289.5H2095.9M2095.9 286.1H2097.1M2096.6 286.1H2097.8M2097.8 286.6H2099.0M2098.5 280.9H2099.7M2099.7 280.9H2100.9M2100.3 266.0H2101.5M2101.5 268.6H2102.7M2102.2 275.0H2103.4M2103.4 281.3H2104.6M2104.1 281.3H2105.3M2105.3 276.8H2106.5M2105.9 286.1H2107.1M2107.1 288.4H2108.3M2107.8 288.4H2109.0M2109.0 294.7H2110.2M2109.7 285.2H2110.9M2110.9 285.8H2112.1M2111.6 285.8H2112.8M2112.8 276.0H2114.0M2113.4 276.0H2114.6M2114.6 283.3H2115.8M2115.3 283.3H2116.5M2116.5 280.3H2117.7M2117.2 268.3H2118.4M2118.4 267.5H2119.6M2119.0 260.0H2120.2M2120.2 262.3H2121.4M2120.9 262.3H2122.1M2122.1 270.0H2123.3M2122.8 280.9H2124.0M2124.0 279.4H2125.2M2124.6 279.4H2125.8M2125.8 282.1H2127.0M2126.5 282.1H2127.7M2127.7 281.6H2128.9M2128.4 281.6H2129.6M2129.6 281.7H2130.8M2130.3 267.5H2131.5M2131.5 255.1H2132.7M2132.1 255.1H2133.3M2133.3 256.3H2134.5M2134.0 256.3H2135.2M2135.2 255.2H2136.4M2135.9 255.2H2137.1M2137.1 250.6H2138.3M2137.7 250.6H2138.9M2138.9 254.3H2140.1M2139.6 232.7H2140.8M2140.8 250.4H2142.0M2141.5 234.7H2142.7M2142.7 238.7H2143.9M2143.3 231.9H2144.5M2144.5 232.1H2145.7M2145.2 232.1H2146.4M2146.4 230.4H2147.6M2147.1 235.3H2148.3M2148.3 233.6H2149.5M2148.9 233.6H2150.1M2150.1 239.5H2151.3M2150.8 239.5H2152.0M2152.0 243.9H2153.2M2152.7 243.9H2153.9M2153.9 239.7H2155.1M2154.6 239.7H2155.8M2155.8 250.1H2157.0M2156.4 236.2H2157.6M2157.6 237.1H2158.8M2158.3 261.4H2159.5M2159.5 256.3H2160.7M2160.2 256.3H2161.4M2161.4 263.9H2162.6M2162.0 263.9H2163.2M2163.2 266.8H2164.4M2163.9 266.8H2165.1M2165.1 266.6H2166.3M2165.8 272.5H2167.0M2167.0 274.3H2168.2M2167.6 287.4H2168.8M2168.8 287.7H2170.0M2169.5 279.6H2170.7M2170.7 281.8H2171.9M2171.4 281.8H2172.6M2172.6 281.6H2173.8M2173.2 281.6H2174.4M2174.4 289.7H2175.6M2175.1 289.7H2176.3M2176.3 298.5H2177.5M2177.0 311.9H2178.2M2178.2 304.8H2179.4M2178.9 322.2H2180.1M2180.1 317.6H2181.3M2180.7 325.7H2181.9M2181.9 323.3H2183.1M2182.6 323.3H2183.8M2183.8 335.0H2185.0M2184.5 335.0H2185.7M2185.7 338.3H2186.9M2186.3 338.3H2187.5M2187.5 336.8H2188.7M2188.2 336.8H2189.4M2189.4 340.3H2190.6M2190.1 340.3H2191.3M2191.3 339.7H2192.5M2191.9 339.7H2193.1M2193.1 345.2H2194.3M2193.8 339.1H2195.0M2195.0 331.7H2196.2M2195.7 331.7H2196.9M2196.9 350.8H2198.1M2197.6 318.1H2198.8M2198.8 322.6H2200.0M2199.4 300.6H2200.6M2200.6 301.9H2201.8M2201.3 301.9H2202.5M2202.5 300.3H2203.7M2203.2 314.5H2204.4M2204.4 307.1H2205.6M2205.0 318.6H2206.2M2206.2 323.5H2207.4M2206.9 323.5H2208.1M2208.1 329.2H2209.3M2208.8 329.2H2210.0M2210.0 323.5H2211.2M2210.6 323.5H2211.8M2211.8 317.1H2213.0M2212.5 317.1H2213.7M2213.7 312.8H2214.9M2214.4 300.4H2215.6M2215.6 301.0H2216.8M2216.2 289.7H2217.4M2217.4 282.5H2218.6M2218.1 282.5H2219.3M2219.3 279.5H2220.5M2220.0 279.5H2221.2M2221.2 272.1H2222.4M2221.9 285.0H2223.1M2223.1 279.4H2224.3M2223.7 279.4H2224.9M2224.9 276.6H2226.1M2225.6 301.2H2226.8M2226.8 296.6H2228.0M2227.5 303.3H2228.7M2228.7 303.9H2229.9M2229.3 303.9H2230.5M2230.5 308.8H2231.7M2231.2 308.8H2232.4M2232.4 314.7H2233.6M2233.1 314.7H2234.3M2234.3 319.2H2235.5M2234.9 319.2H2236.1M2236.1 313.5H2237.3M2236.8 313.5H2238.0M2238.0 312.3H2239.2M2238.7 331.8H2239.9M2239.9 339.5H2241.1M2240.6 362.3H2241.8M2241.8 362.0H2243.0M2242.4 381.4H2243.6M2243.6 390.0H2244.8" stroke="#000" stroke-width="1" fill="none"/>
<line x1="0" y1="294.1" x2="1510.5" y2="29" stroke="#ff1a1a" stroke-width="1.1"/>
<line x1="1217" y1="1228.8" x2="2364" y2="1010.5" stroke="#22dd22" stroke-width="1.1"/>
<ellipse cx="1494" cy="226" rx="494.5" ry="225.6" fill="rgba(0,240,240,0.25)" stroke="#2ce6f0" stroke-width="1"/>
<path d="M1958.9 363A160.5 152.2 0 0 1 2279.9 363Z" fill="rgba(255,0,0,0.11)" stroke="#ff2a2a" stroke-width="1.3"/>
<line x1="2243.7" y1="378.8" x2="2364" y2="378.8" stroke="#f00" stroke-width="3.3"/>
</g>
<rect x="0" y="1228" width="2364" height="2" fill="#6c6c6c"/>
<text class="wm" x="2062" y="1219" textLength="184" lengthAdjust="spacingAndGlyphs">slopecharts.com</text>
<g class="ax" text-anchor="end"><text x="2354" y="74.0">110</text><text x="2354" y="118.3">105</text><text x="2354" y="164.9">100</text><text x="2354" y="213.8">95</text><text x="2354" y="265.3">90</text><text x="2354" y="319.9">85</text><text x="2354" y="377.7">80</text><text x="2354" y="439.2">75</text><text x="2354" y="505.0">70</text><text x="2354" y="575.7">65</text><text x="2354" y="652.0">60</text><text x="2354" y="735.0">55</text><text x="2354" y="825.9">50</text><text x="2354" y="926.4">45</text><text x="2354" y="1038.7">40</text><text x="2354" y="1166.1">35</text></g>
<g class="ax" text-anchor="middle"><text x="118" y="1252.3">Apr 2019</text><text x="356" y="1252.3">Oct 2019</text><text x="588" y="1252.3">Apr 2020</text><text x="828" y="1252.3">Oct 2020</text><text x="1060" y="1252.3">Apr 2021</text><text x="1297.5" y="1252.3">Oct 2021</text><text x="1536" y="1252.3">Apr 2022</text><text x="1770" y="1252.3">Oct 2022</text><text x="2004" y="1252.3">Apr 2023</text><text x="2239.5" y="1252.3">Oct 2023</text></g>
</svg>
<div id="hdr"><a>BMO - Bank of Montreal</a> 79.66 <span class="r">-0.47 -0.58%</span> D: 08/19/2019 O:  59.57 <span class="b">H:  59.71</span> L:  59.26 C:  59.28 Y: 113.88</div>
</body></html>
